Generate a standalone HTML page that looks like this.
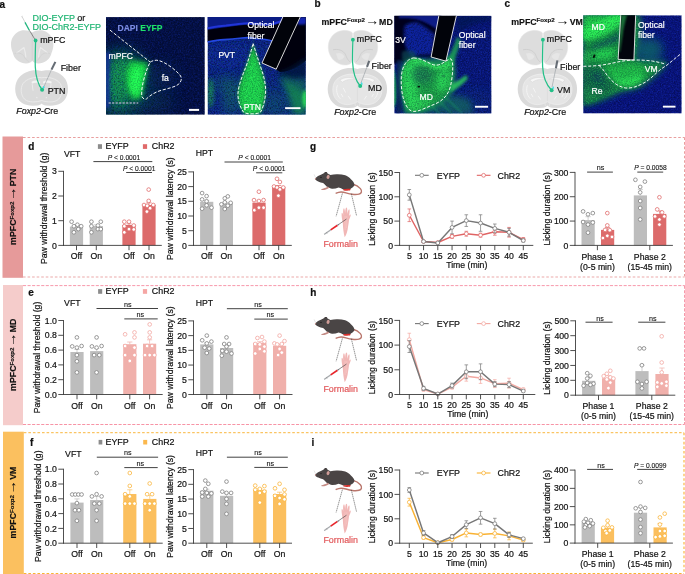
<!DOCTYPE html>
<html lang="en"><head><meta charset="utf-8"><title>Figure</title>
<style>html,body{margin:0;padding:0;background:#fff;overflow:hidden}svg{display:block;will-change:transform;transform:translateZ(0)}text{font-family:"Liberation Sans",sans-serif}</style>
</head><body>
<svg width="685" height="574" viewBox="0 0 685 574">
<defs>
<filter id="b05" x="-60%" y="-60%" width="220%" height="220%"><feGaussianBlur stdDeviation="0.5"/></filter>
<filter id="b1" x="-60%" y="-60%" width="220%" height="220%"><feGaussianBlur stdDeviation="1"/></filter>
<filter id="b15" x="-60%" y="-60%" width="220%" height="220%"><feGaussianBlur stdDeviation="1.5"/></filter>
<filter id="b2" x="-60%" y="-60%" width="220%" height="220%"><feGaussianBlur stdDeviation="2"/></filter>
<filter id="b3" x="-60%" y="-60%" width="220%" height="220%"><feGaussianBlur stdDeviation="3.2"/></filter>
<filter id="b5" x="-60%" y="-60%" width="220%" height="220%"><feGaussianBlur stdDeviation="5"/></filter>
<filter id="b8" x="-60%" y="-60%" width="220%" height="220%"><feGaussianBlur stdDeviation="8"/></filter>
<filter id="nB" x="0" y="0" width="100%" height="100%" color-interpolation-filters="sRGB">
 <feTurbulence type="fractalNoise" baseFrequency="0.75" numOctaves="2" seed="4" result="t"/>
 <feColorMatrix in="t" type="matrix" values="0 0 0 0 0  0 0 0 0 0  0 0 0 0 0  3.2 0 0 0 -1.35" result="a"/>
 <feFlood flood-color="#1c38c0" result="f"/>
 <feComposite in="f" in2="a" operator="in" result="n"/>
 <feComposite in="n" in2="SourceGraphic" operator="in"/>
</filter>
<filter id="nB2" x="0" y="0" width="100%" height="100%" color-interpolation-filters="sRGB">
 <feTurbulence type="fractalNoise" baseFrequency="0.5" numOctaves="2" seed="9" result="t"/>
 <feColorMatrix in="t" type="matrix" values="0 0 0 0 0  0 0 0 0 0  0 0 0 0 0  3.0 0 0 0 -1.2" result="a"/>
 <feFlood flood-color="#10269a" result="f"/>
 <feComposite in="f" in2="a" operator="in" result="n"/>
 <feComposite in="n" in2="SourceGraphic" operator="in"/>
</filter>
<filter id="nG" x="0" y="0" width="100%" height="100%" color-interpolation-filters="sRGB">
 <feTurbulence type="fractalNoise" baseFrequency="0.85" numOctaves="2" seed="7" result="t"/>
 <feColorMatrix in="t" type="matrix" values="0 0 0 0 0  0 0 0 0 0  0 0 0 0 0  3.4 0 0 0 -1.45" result="a"/>
 <feFlood flood-color="#3cff68" result="f"/>
 <feComposite in="f" in2="a" operator="in" result="n"/>
 <feComposite in="n" in2="SourceGraphic" operator="in"/>
</filter>
<filter id="nGd" x="0" y="0" width="100%" height="100%" color-interpolation-filters="sRGB">
 <feTurbulence type="fractalNoise" baseFrequency="0.8" numOctaves="2" seed="12" result="t"/>
 <feColorMatrix in="t" type="matrix" values="0 0 0 0 0  0 0 0 0 0  0 0 0 0 0  3.2 0 0 0 -1.4" result="a"/>
 <feFlood flood-color="#0c5a3a" result="f"/>
 <feComposite in="f" in2="a" operator="in" result="n"/>
 <feComposite in="n" in2="SourceGraphic" operator="in"/>
</filter>
<filter id="nK" x="0" y="0" width="100%" height="100%" color-interpolation-filters="sRGB">
 <feTurbulence type="fractalNoise" baseFrequency="0.7" numOctaves="2" seed="21" result="t"/>
 <feColorMatrix in="t" type="matrix" values="0 0 0 0 0  0 0 0 0 0  0 0 0 0 0  3.0 0 0 0 -1.3" result="a"/>
 <feFlood flood-color="#020718" result="f"/>
 <feComposite in="f" in2="a" operator="in" result="n"/>
 <feComposite in="n" in2="SourceGraphic" operator="in"/>
</filter>
<filter id="nT" x="0" y="0" width="100%" height="100%" color-interpolation-filters="sRGB">
 <feTurbulence type="fractalNoise" baseFrequency="0.6" numOctaves="2" seed="15" result="t"/>
 <feColorMatrix in="t" type="matrix" values="0 0 0 0 0  0 0 0 0 0  0 0 0 0 0  3.0 0 0 0 -1.3" result="a"/>
 <feFlood flood-color="#1f8f6a" result="f"/>
 <feComposite in="f" in2="a" operator="in" result="n"/>
 <feComposite in="n" in2="SourceGraphic" operator="in"/>
</filter>
<clipPath id="c1"><rect x="106.0" y="17.1" width="98.8" height="97.6"/></clipPath>
<clipPath id="c2"><rect x="207.6" y="17.1" width="98.2" height="97.6"/></clipPath>
<clipPath id="c3"><rect x="394.3" y="15.8" width="97.2" height="97.8"/></clipPath>
<clipPath id="c4"><rect x="583.2" y="15.3" width="98.5" height="98.2"/></clipPath>
</defs>
<rect x="0.00" y="0.00" width="685.00" height="574.00" fill="#fff" />
<text x="-0.50" y="7.50" font-size="10" text-anchor="start" fill="#111" stroke="#111" stroke-width="0.2" font-weight="bold" >a</text>
<g transform="translate(32.2 30.2)">
<path d="M0 2.4 C-3 0.2 -8 -0.4 -11.4 0.5 C-17.4 2.2 -21.2 8 -21.2 14 C-21.2 17.4 -20.4 20.4 -19.3 22.7 C-18.9 25.4 -17 28.6 -14 30.9 C-10.4 33.5 -5 34 -2 32.4 C-1 31.8 -0.4 31 0 30.2 C0.4 31 1 31.8 2 32.4 C5 34 10.4 33.5 14 30.9 C17 28.6 18.9 25.4 19.3 22.7 C20.4 20.4 21.2 17.4 21.2 14 C21.2 8 17.4 2.2 11.4 0.5 C8 -0.4 3 0.2 0 2.4 Z" fill="#dcdcdc"/>
<path d="M-8.2 17.4 L-15.6 22.8 M-8.2 17.4 C-7.2 21 -6.6 24 -6.4 26.8 M8.2 17.4 L15.6 22.8 M8.2 17.4 C7.2 21 6.6 24 6.4 26.8" fill="none" stroke="#ebebeb" stroke-width="1.2" stroke-linecap="round"/>
<path d="M-17.6 23.4 C-14 22 -10 23 -8 26.4 C-7 28.6 -5.4 30.6 -3 31.4 M17.6 23.4 C14 22 10 23 8 26.4 C7 28.6 5.4 30.6 3 31.4" fill="none" stroke="#d0d0d0" stroke-width="0.7"/>
<line x1="0.00" y1="2.60" x2="0.00" y2="30.20" stroke="#cccccc" stroke-width="0.6" />
</g>
<g transform="translate(41.6 70.3) scale(0.8893 0.8894)">
<path d="M0 0.8 C-3 -0.2 -8 -0.4 -12 0.4 C-18 1.6 -23.6 5 -26.8 10 C-29.4 14.2 -30.2 19.6 -29.4 24.6 C-28.6 29.6 -26 34 -22 36.8 C-18.4 39.2 -13.6 39.9 -9.4 39.8 L-4.6 39.6 C-2.6 39.4 -0.8 38.6 0 37.4 C0.8 38.6 2.6 39.4 4.6 39.6 L9.4 39.8 C13.6 39.9 18.4 39.2 22 36.8 C26 34 28.6 29.6 29.4 24.6 C30.2 19.6 29.4 14.2 26.8 10 C23.6 5 18 1.6 12 0.4 C8 -0.4 3 -0.2 0 0.8 Z" fill="#dadada"/>
<path d="M0 8.4 C-8 7 -17 9.4 -21 15 C-24 20 -23.6 28 -19 32.6 C-14.6 36.6 -6 36 0 34 C6 36 14.6 36.6 19 32.6 C23.6 28 24 20 21 15 C17 9.4 8 7 0 8.4 Z" fill="none" stroke="#ececec" stroke-width="1"/>
<path d="M-11.4 12.8 C-8 11 -4 11.4 -1.6 12.8 L-1.8 14.8 C-4.6 13.8 -8.4 13.8 -10.8 15 Z M11.4 12.8 C8 11 4 11.4 1.6 12.8 L1.8 14.8 C4.6 13.8 8.4 13.8 10.8 15 Z" fill="#f3f3f3"/>
<path d="M-10.6 15.6 L-9.6 23 M10.6 15.6 L9.6 23 M-3.4 15.6 C-2.2 17.8 2.2 17.8 3.4 15.6" fill="none" stroke="#f0f0f0" stroke-width="0.9"/>
<path d="M-5.4 30 L-5.2 31.4 M5.4 30 L5.2 31.4" stroke="#f2f2f2" stroke-width="0.9" fill="none"/>
</g>
<line x1="22.00" y1="16.50" x2="25.20" y2="22.60" stroke="#c9c9c9" stroke-width="0.8" />
<line x1="21.30" y1="16.90" x2="22.70" y2="16.10" stroke="#bbb" stroke-width="0.5" />
<line x1="25.00" y1="22.40" x2="29.30" y2="30.20" stroke="#21b57f" stroke-width="1.3" />
<line x1="29.30" y1="30.20" x2="34.80" y2="39.20" stroke="#333" stroke-width="0.5" />
<line x1="51.50" y1="69.60" x2="43.60" y2="87.40" stroke="#8d949b" stroke-width="0.55" />
<line x1="55.4" y1="61.9" x2="51.5" y2="69.6" stroke="#666d75" stroke-width="2.1"/>
<path d="M35.6 40.5 C35.30 51.10 35.10 61.70 35.30 67.0 C35.80 77.22 38.52 85.16 42.1 89.7" fill="none" stroke="#23c088" stroke-width="1.25" stroke-linecap="round"/>
<circle cx="35.60" cy="40.50" r="1.9" fill="#23c088" />
<path d="M42.30 88.50 L43.70 85.50 L44.70 88.10 Z" fill="#35e0ea"/>
<circle cx="42.10" cy="89.70" r="2.0" fill="#23c088" />
<text x="32.4" y="20.7" font-size="9" fill="#20b573" stroke="#20b573" stroke-width="0.2">DIO-EYFP <tspan fill="#111" stroke="#111">or</tspan></text>
<text x="32.40" y="29.70" font-size="9" text-anchor="start" fill="#20b573" stroke="#20b573" stroke-width="0.2" >DIO-ChR2-EYFP</text>
<text x="40.20" y="43.10" font-size="8.9" text-anchor="start" fill="#111" stroke="#111" stroke-width="0.2" >mPFC</text>
<text x="60.70" y="70.90" font-size="8.9" text-anchor="start" fill="#111" stroke="#111" stroke-width="0.2" >Fiber</text>
<text x="47.70" y="93.90" font-size="8.9" text-anchor="start" fill="#111" stroke="#111" stroke-width="0.2" >PTN</text>
<text x="16.3" y="113.8" font-size="8.9" fill="#111" stroke="#111" stroke-width="0.2"><tspan font-style="italic">Foxp2</tspan>-Cre</text>
<g clip-path="url(#c1)">
<rect x="106.0" y="17.1" width="98.8" height="97.6" fill="#040f3c" />
<ellipse cx="120" cy="83" rx="26" ry="32" fill="#117a52" filter="url(#b8)"/>
<ellipse cx="122" cy="80" rx="12" ry="23" fill="#16a04c" opacity="0.95" filter="url(#b5)"/>
<ellipse cx="150" cy="102" rx="24" ry="12" fill="#0c4a52" opacity="0.5" filter="url(#b8)"/>
<ellipse cx="160" cy="76" rx="16" ry="12" fill="#0b3a5a" opacity="0.5" filter="url(#b8)"/>
<rect x="106.0" y="17.1" width="98.8" height="97.6" fill="#000" filter="url(#nB2)" opacity="0.3"/>
<rect x="106.0" y="17.1" width="98.8" height="97.6" fill="#000" filter="url(#nB)" opacity="0.2"/>
<rect x="106.0" y="17.1" width="98.8" height="97.6" fill="#000" filter="url(#nK)" opacity="0.45"/>
<rect x="105" y="52" width="5" height="56" fill="#12309a" opacity="0.85" filter="url(#b15)"/>
<path d="M130.5 60 L147.6 62.2 C146.4 70 144.6 78 142.8 86 C142 90 141.6 93.5 141.2 96.5 C138.6 100.5 134.4 101 131.6 98.4 C128.4 93 126.4 85 126 78 C125.6 71 127.4 64.5 130.5 60 Z" fill="#12b040" filter="url(#b3)" opacity="0.9"/>
<path d="M131.6 63.4 L146.4 65 C145.4 72 144 79 142.4 86 C141.8 89.5 141.4 92 141 94.6 C138.8 97.6 135.2 97.8 133 95.8 C130.4 91 128.6 85 128.2 79 C127.8 73 129 67.5 131.6 63.4 Z" fill="#16dc46" filter="url(#b2)"/>
<ellipse cx="136" cy="80.5" rx="5.2" ry="13.5" fill="#24fc54" filter="url(#b2)" transform="rotate(7 136 80.5)"/>
<path d="M130.5 60 L147.6 62.2 C146.4 70 144.6 78 142.8 86 C142 90 141.6 93.5 141.2 96.5 C138.6 100.5 134.4 101 131.6 98.4 C128.4 93 126.4 85 126 78 C125.6 71 127.4 64.5 130.5 60 Z" fill="#000" filter="url(#nGd)" opacity="0.35"/>
<path d="M130.5 60 L147.6 62.2 C146.4 70 144.6 78 142.8 86 C142 90 141.6 93.5 141.2 96.5 C138.6 100.5 134.4 101 131.6 98.4 C128.4 93 126.4 85 126 78 C125.6 71 127.4 64.5 130.5 60 Z" fill="#000" filter="url(#nG)" opacity="0.25"/>
<ellipse cx="120" cy="82" rx="12" ry="22" fill="#000" filter="url(#nG)" opacity="0.16"/>
<path d="M110 30.1 L150.2 62.1" fill="none" stroke="#fff" stroke-width="0.95" stroke-dasharray="3.2 1.7"/>
<path d="M150.2 62.1 C153 60.4 156 59.8 159 60.6 C166 62.6 174 68.6 179.6 74.6 C182 77.4 181.8 80.4 179.4 83.4 C176 87 168 88.4 161 90.4 C154 92.4 149 96.4 146.4 99 C145 100 142.8 98.6 141.9 96.4 C141 92 142.4 84 144.6 76.6 C146 71 148.4 65.6 150.2 62.1 Z" fill="none" stroke="#fff" stroke-width="0.95" stroke-dasharray="3.2 1.7"/>
<path d="M108.6 103 H138.2" fill="none" stroke="#9aa1bb" stroke-width="1.5" stroke-dasharray="2.2 1.3"/>
<rect x="189.00" y="108.90" width="10.10" height="2.00" fill="#fff" />
<text x="117.6" y="30.5" font-size="8.5" font-weight="bold" fill="#7d8de4" stroke="#7d8de4" stroke-width="0.15">DAPI <tspan fill="#1fe26a" stroke="#1fe26a">EYFP</tspan></text>
<text x="108.60" y="58.50" font-size="8.6" text-anchor="start" fill="#fff" stroke="#fff" stroke-width="0.2" >mPFC</text>
<text x="161.70" y="80.90" font-size="8.6" text-anchor="start" fill="#fff" stroke="#fff" stroke-width="0.2" >fa</text>
</g>
<g clip-path="url(#c2)">
<rect x="207.6" y="17.1" width="98.2" height="97.6" fill="#0c1f86" />
<ellipse cx="228" cy="84" rx="14" ry="9" fill="#127a5c" opacity="0.45" filter="url(#b5)"/>
<ellipse cx="231" cy="100" rx="9" ry="15" fill="#128058" opacity="0.5" filter="url(#b5)"/>
<ellipse cx="210.6" cy="93" rx="3.2" ry="15" fill="#1fa04c" opacity="0.85" filter="url(#b2)"/>
<ellipse cx="275" cy="104" rx="16" ry="14" fill="#0d5a68" opacity="0.7" filter="url(#b8)"/>
<ellipse cx="228" cy="56" rx="22" ry="12" fill="#10269a" opacity="0.8" filter="url(#b5)"/>
<rect x="207.6" y="17.1" width="98.2" height="97.6" fill="#000" filter="url(#nB)" opacity="0.4"/>
<rect x="207.6" y="17.1" width="98.2" height="97.6" fill="#000" filter="url(#nK)" opacity="0.5"/>
<rect x="207.6" y="17.1" width="98.2" height="97.6" fill="#000" filter="url(#nT)" opacity="0.22"/>
<path d="M207 29.6 C213 28 220 27.6 226 26.8 C232 26 238 25 244 24.6 C250 24.2 256 24.8 262 25.4 C268 26 275 25.2 281 22.4 L284 17 L306.5 17 L306.5 60 C298 68 288 72 280 72 L276.2 69.2 L262 63 L272.4 41 C268 39.6 262 39 256 38.8 C252 37.6 247 37.4 242 38 C236 38.8 230 39.4 224 39.6 C218 39.8 213 40.8 207 42 Z" fill="#01030c" filter="url(#b05)"/>
<path d="M207 17 H284 L281 22.5 C275 25.6 268 26.4 262 25.8 C256 25.2 250 24.6 244 25 C238 25.6 232 26.6 226 27.2 C220 28 213 28.6 207 30 Z" fill="#0b1c84"/>
<path d="M207 28.4 C213 26.8 220 26.2 226 25.6 C232 24.8 238 23.8 244 23.4 C250 23 256 23.6 262 24.2 C268 24.8 275 24 281 21.2" fill="none" stroke="#2034d8" stroke-width="2" filter="url(#b05)"/>
<path d="M299 17 L306.5 17 L306.5 24 C303 25 300 25 297 24 Z" fill="#1428b0" filter="url(#b1)"/>
<path d="M207 42 C213 40.8 218 39.8 224 39.6 C230 39.4 236 38.8 242 38 C247 37.4 252 37.6 256 38.8 C262 39 268 39.6 272.4 41" fill="none" stroke="#2447e0" stroke-width="1.6" filter="url(#b05)"/>
<path d="M278 72 C288 70 298 64 306.5 56 L306.5 78 C298 80 288 80 280 76 Z" fill="#06143a" opacity="0.8" filter="url(#b2)"/>
<path d="M279 76 C286 80 296 86 306.5 90 L306.5 115 L293 115 C292 102 286 88 279 76 Z" fill="#189648" opacity="0.75" filter="url(#b3)"/>
<path d="M280 76 C288 79 296 80 306.5 78 L306.5 90 C296 88 287 84 280 76 Z" fill="#15804e" opacity="0.6" filter="url(#b3)"/>
<ellipse cx="305" cy="99" rx="2.6" ry="9" fill="#2ee858" filter="url(#b15)" opacity="0.9"/>
<path d="M253.1 43.4 C255.4 51 258.6 61 262 71 C264.8 79 266.2 88 265.4 95 C264.6 102 263 108 260.6 112 C258 114.6 246 114.6 243.4 112 C240 107 237.6 100 238 93 C238.6 85 242.4 75.5 245.8 67 C248.8 59 251.2 51 253.1 43.4 Z" fill="#17a641" filter="url(#b15)"/>
<path d="M253 52 C256 62 260 72 262 82 C263.6 92 262 104 259 114 L245 114 C241 104 240.6 94 243 84 C246 72 250 62 253 52 Z" fill="#1fd04c" filter="url(#b2)"/>
<path d="M253.1 43.4 C255.4 51 258.6 61 262 71 C264.8 79 266.2 88 265.4 95 C264.6 102 263 108 260.6 112 C258 114.6 246 114.6 243.4 112 C240 107 237.6 100 238 93 C238.6 85 242.4 75.5 245.8 67 C248.8 59 251.2 51 253.1 43.4 Z" fill="#000" filter="url(#nG)" opacity="0.45"/>
<path d="M253.1 43.4 C255.4 51 258.6 61 262 71 C264.8 79 266.2 88 265.4 95 C264.6 102 263 108 260.6 112 C258 114.6 246 114.6 243.4 112 C240 107 237.6 100 238 93 C238.6 85 242.4 75.5 245.8 67 C248.8 59 251.2 51 253.1 43.4 Z" fill="#000" filter="url(#nGd)" opacity="0.4"/>
<path d="M283.7 16 L301.1 16 L276.2 69.2 L262 63 Z" fill="#01030a"/>
<path d="M253.1 43.4 C255.4 51 258.6 61 262 71 C264.8 79 266.2 88 265.4 95 C264.6 102 263 108 260.6 112 C258 114.6 246 114.6 243.4 112 C240 107 237.6 100 238 93 C238.6 85 242.4 75.5 245.8 67 C248.8 59 251.2 51 253.1 43.4 Z" fill="none" stroke="#fff" stroke-width="0.95" stroke-dasharray="3.2 1.7"/>
<path d="M283.7 15 L301.1 15 L276.2 69.2 L262 63 Z" fill="none" stroke="#fff" stroke-width="0.85"/>
<rect x="285.10" y="107.20" width="15.40" height="1.90" fill="#fff" />
<text x="247.60" y="28.40" font-size="8.6" text-anchor="start" fill="#fff" stroke="#fff" stroke-width="0.2" >Optical</text>
<text x="247.60" y="39.20" font-size="8.6" text-anchor="start" fill="#fff" stroke="#fff" stroke-width="0.2" >fiber</text>
<text x="218.40" y="58.10" font-size="8.6" text-anchor="start" fill="#fff" stroke="#fff" stroke-width="0.2" >PVT</text>
<text x="243.70" y="110.20" font-size="8.6" text-anchor="start" fill="#fff" stroke="#fff" stroke-width="0.2" >PTN</text>
</g>
<text x="314.60" y="7.45" font-size="10" text-anchor="start" fill="#111" stroke="#111" stroke-width="0.2" font-weight="bold" >b</text>
<g transform="translate(321.50 24.70) rotate(0)" fill="#111" stroke="#111" stroke-width="0.15">
<text x="0" y="0" font-size="8.8" font-weight="bold">mPFC<tspan font-size="6.1" dy="-2.7">Foxp2</tspan></text>
<text x="43.80" y="0" font-size="14" stroke="none">→</text>
<text x="57.60" y="0" font-size="8.8" font-weight="bold">MD</text>
</g>
<g transform="translate(353.0 30.2)">
<path d="M-0.5 2.8 C-2.6 0.4 -8 -0.6 -13 0.8 C-19.4 2.6 -24.2 8.4 -24.7 15.4 C-25.1 21 -23 26.6 -19 30.4 C-14.6 34.4 -7.4 36.4 -2.6 33.6 C-1 32.6 -0.5 30 -0.5 27 Z" fill="#dddddd" stroke="#e6e6e6" stroke-width="0.5"/>
<path d="M0.5 2.8 C2.6 0.4 8 -0.6 13 0.8 C19.4 2.6 24.2 8.4 24.7 15.4 C25.1 21 23 26.6 19 30.4 C14.6 34.4 7.4 36.4 2.6 33.6 C1 32.6 0.5 30 0.5 27 Z" fill="#dddddd" stroke="#e6e6e6" stroke-width="0.5"/>
<path d="M-20 19.6 C-15 18.4 -9.6 20 -7.4 24.6 C-6.4 27.4 -5 30.4 -3 31.6 M20 19.6 C15 18.4 9.6 20 7.4 24.6 C6.4 27.4 5 30.4 3 31.6" fill="none" stroke="#cbcbcb" stroke-width="0.8"/>
<path d="M-17 23.4 C-13.6 22 -10 23.4 -8.6 26.4 C-9.6 29 -12.6 30.4 -15 29.4 Z M17 23.4 C13.6 22 10 23.4 8.6 26.4 C9.6 29 12.6 30.4 15 29.4 Z" fill="#e6e6e6"/>
</g>
<g transform="translate(357.4 68.2) scale(1.0000 1.0000)">
<path d="M0 0.8 C-3 -0.2 -8 -0.4 -12 0.4 C-18 1.6 -23.6 5 -26.8 10 C-29.4 14.2 -30.2 19.6 -29.4 24.6 C-28.6 29.6 -26 34 -22 36.8 C-18.4 39.2 -13.6 39.9 -9.4 39.8 L-4.6 39.6 C-2.6 39.4 -0.8 38.6 0 37.4 C0.8 38.6 2.6 39.4 4.6 39.6 L9.4 39.8 C13.6 39.9 18.4 39.2 22 36.8 C26 34 28.6 29.6 29.4 24.6 C30.2 19.6 29.4 14.2 26.8 10 C23.6 5 18 1.6 12 0.4 C8 -0.4 3 -0.2 0 0.8 Z" fill="#dadada"/>
<path d="M0 6.4 C-7 5 -16 6.6 -21 11.6 C-25 16 -25.6 23 -23 28.6 C-20.6 33.6 -15 36.6 -9.6 36.4 C-5.6 36.2 -2 35 0 33.4 C2 35 5.6 36.2 9.6 36.4 C15 36.6 20.6 33.6 23 28.6 C25.6 23 25 16 21 11.6 C16 6.6 7 5 0 6.4 Z" fill="#e5e5e5" stroke="#efefef" stroke-width="0.7"/>
<path d="M-17.6 12 C-13 8.6 -6 8.4 -1.4 11.2 C-5 10.6 -11 11 -15 14 Z M17.6 12 C13 8.6 6 8.4 1.4 11.2 C5 10.6 11 11 15 14 Z" fill="#f6f6f6" stroke="#cfcfcf" stroke-width="0.4"/>
<path d="M-20 17 C-21.6 21.6 -20.6 27 -17 30.6 M20 17 C21.6 21.6 20.6 27 17 30.6" fill="none" stroke="#f4f4f4" stroke-width="1"/>
<path d="M-14 20 L-12 24 M14 20 L12 24 M-9 28 L-7 31 M9 28 L7 31 M-16 26 L-14.6 28.6 M16 26 L14.6 28.6" stroke="#f4f4f4" stroke-width="1" stroke-linecap="round" fill="none"/>
<path d="M0 12 L0 33" stroke="#d6d6d6" stroke-width="0.5"/>
<path d="M-2.6 34 L-2 38 M2.6 34 L2 38" stroke="#eaeaea" stroke-width="0.7"/>
</g>
<line x1="367.00" y1="66.90" x2="360.80" y2="83.40" stroke="#8d949b" stroke-width="0.55" />
<line x1="369.2" y1="60.8" x2="367.0" y2="66.9" stroke="#666d75" stroke-width="2.1"/>
<path d="M352.9 39.7 C352.60 48.82 352.40 57.94 352.60 62.5 C353.10 73.08 356.19 81.30 360.2 86.0" fill="none" stroke="#23c088" stroke-width="1.25" stroke-linecap="round"/>
<circle cx="352.90" cy="39.70" r="1.9" fill="#23c088" />
<path d="M360.40 84.80 L361.80 81.80 L362.80 84.40 Z" fill="#35e0ea"/>
<circle cx="360.20" cy="86.00" r="2.0" fill="#23c088" />
<text x="356.80" y="42.20" font-size="8.9" text-anchor="start" fill="#111" stroke="#111" stroke-width="0.2" >mPFC</text>
<text x="371.60" y="69.20" font-size="8.9" text-anchor="start" fill="#111" stroke="#111" stroke-width="0.2" >Fiber</text>
<text x="368.10" y="90.70" font-size="8.9" text-anchor="start" fill="#111" stroke="#111" stroke-width="0.2" >MD</text>
<text x="334.2" y="115.3" font-size="8.9" fill="#111" stroke="#111" stroke-width="0.2"><tspan font-style="italic">Foxp2</tspan>-Cre</text>
<g clip-path="url(#c3)">
<rect x="394.3" y="15.8" width="97.2" height="97.8" fill="#081678" />
<ellipse cx="470" cy="102" rx="26" ry="12" fill="#0c3078" opacity="0.6" filter="url(#b8)"/>
<rect x="394.3" y="15.8" width="97.2" height="97.8" fill="#000" filter="url(#nB)" opacity="0.4"/>
<rect x="394.3" y="15.8" width="97.2" height="97.8" fill="#000" filter="url(#nK)" opacity="0.4"/>
<path d="M393 14 L441 14 L432 57.5 C424 56 416 56.6 409 58.6 L402 62 L393 64 Z" fill="#02061a" filter="url(#b1)"/>
<path d="M399 15 L441 15 L437.4 29.5 C432 26 426 22.6 420 20.4 C414 18.6 406 17.8 399 18.6 Z" fill="#0b1c86" filter="url(#b1)"/>
<path d="M404.6 26 C408 23.4 413 22 417.4 22.4 C423 25 429 29.4 434.4 34 L431.8 55 C425 54.4 418 55 411.4 56.8 C408 53 405.6 48 404.6 42 C404 36 404 30 404.6 26 Z" fill="#0f239c" filter="url(#b15)"/>
<path d="M404.6 26 C408 23.4 413 22 417.4 22.4 C423 25 429 29.4 434.4 34 L431.8 55 C425 54.4 418 55 411.4 56.8 C408 53 405.6 48 404.6 42 C404 36 404 30 404.6 26 Z" fill="#000" filter="url(#nK)" opacity="0.45"/>
<path d="M402 52 C406 50 412 50 416 53 L414 58 C410 58 406 59.6 402 62 Z" fill="#0c4a5a" opacity="0.7" filter="url(#b15)"/>
<path d="M456 15 L491.5 15 L491.5 21 C480 21 468 25 458 33 Z" fill="#061450" opacity="0.7" filter="url(#b2)"/>
<path d="M393.6 68 C396 74 396.8 88 396.2 102 L393.6 110 Z" fill="#22cc50" filter="url(#b1)" opacity="0.95"/>
<path d="M405 62 L452 56 C458 66 456 84 450 96 C444 106 432 112 420 114 L404 114 C402 100 402 80 405 62 Z" fill="#1a9a50" opacity="0.8" filter="url(#b2)"/>
<path d="M396.6 60 L402 60 C400 76 400 94 402.6 110 L398 114 L396.6 114 Z" fill="#0a2c52" opacity="0.8" filter="url(#b1)"/>
<path d="M413.5 57.9 C416 58 418.6 58.6 420.7 59.3 C423.4 60.2 425.6 61.3 427.9 62.4 C430.4 63.6 432.8 64.8 435.1 65.1 C437 65.3 438.9 64.9 440.5 64.2 C442.4 63.4 444.2 62.2 445.9 61.1 C447.6 60 449.4 59 450.9 58.8 C452.2 60.6 452.6 62.8 452.7 65.1 C452.9 68.6 452.6 72.2 452.2 75.8 C451.8 79.5 451.2 83.1 450.4 86.6 C449.6 89.6 448.4 92.4 446.8 94.7 C445 97.3 442.9 99.4 440.5 101 C437.7 102.9 434.6 104.3 431.5 105.5 C428 106.9 424.4 108.6 420.7 110 C418.4 110.9 415.9 111.5 413.5 111.4 C411 111.2 408.8 109.6 407.3 107.3 C405.3 104.4 404 101 403.1 97.4 C402.1 93.4 401.5 89.1 401.3 84.8 C401.1 80.6 401.2 76.3 401.9 72.3 C402.5 69 403.7 65.9 405.5 63.3 C407.5 60.4 410.4 58.2 413.5 57.9 Z" fill="#1b9444" filter="url(#b1)"/>
<path d="M405 64 C408 60 414 58.4 420 60.6 C418 70 416 84 418 96 C419 102 417 108 413 110 C408 108 404 100 402.6 90 C401.4 80 402 70 405 64 Z" fill="#2ee85c" opacity="0.75" filter="url(#b3)"/>
<path d="M414 58.6 C422 59.6 430 64 437 65.6 C442 65.4 447 61.4 451 59.4 L452 66 C446 68 440 70 434 69 C426 67 418 63 412 62 Z" fill="#38ec64" opacity="0.85" filter="url(#b15)"/>
<ellipse cx="443" cy="80" rx="6.5" ry="12" fill="#2cdc58" opacity="0.8" filter="url(#b3)" transform="rotate(12 443 80)"/>
<ellipse cx="420" cy="104" rx="12" ry="5" fill="#30e05c" opacity="0.7" filter="url(#b3)" transform="rotate(-14 420 104)"/>
<ellipse cx="422" cy="75" rx="10.5" ry="8.5" fill="#126250" opacity="0.8" filter="url(#b3)" transform="rotate(15 422 75)"/>
<path d="M413.5 57.9 C416 58 418.6 58.6 420.7 59.3 C423.4 60.2 425.6 61.3 427.9 62.4 C430.4 63.6 432.8 64.8 435.1 65.1 C437 65.3 438.9 64.9 440.5 64.2 C442.4 63.4 444.2 62.2 445.9 61.1 C447.6 60 449.4 59 450.9 58.8 C452.2 60.6 452.6 62.8 452.7 65.1 C452.9 68.6 452.6 72.2 452.2 75.8 C451.8 79.5 451.2 83.1 450.4 86.6 C449.6 89.6 448.4 92.4 446.8 94.7 C445 97.3 442.9 99.4 440.5 101 C437.7 102.9 434.6 104.3 431.5 105.5 C428 106.9 424.4 108.6 420.7 110 C418.4 110.9 415.9 111.5 413.5 111.4 C411 111.2 408.8 109.6 407.3 107.3 C405.3 104.4 404 101 403.1 97.4 C402.1 93.4 401.5 89.1 401.3 84.8 C401.1 80.6 401.2 76.3 401.9 72.3 C402.5 69 403.7 65.9 405.5 63.3 C407.5 60.4 410.4 58.2 413.5 57.9 Z" fill="#000" filter="url(#nG)" opacity="0.3"/>
<path d="M413.5 57.9 C416 58 418.6 58.6 420.7 59.3 C423.4 60.2 425.6 61.3 427.9 62.4 C430.4 63.6 432.8 64.8 435.1 65.1 C437 65.3 438.9 64.9 440.5 64.2 C442.4 63.4 444.2 62.2 445.9 61.1 C447.6 60 449.4 59 450.9 58.8 C452.2 60.6 452.6 62.8 452.7 65.1 C452.9 68.6 452.6 72.2 452.2 75.8 C451.8 79.5 451.2 83.1 450.4 86.6 C449.6 89.6 448.4 92.4 446.8 94.7 C445 97.3 442.9 99.4 440.5 101 C437.7 102.9 434.6 104.3 431.5 105.5 C428 106.9 424.4 108.6 420.7 110 C418.4 110.9 415.9 111.5 413.5 111.4 C411 111.2 408.8 109.6 407.3 107.3 C405.3 104.4 404 101 403.1 97.4 C402.1 93.4 401.5 89.1 401.3 84.8 C401.1 80.6 401.2 76.3 401.9 72.3 C402.5 69 403.7 65.9 405.5 63.3 C407.5 60.4 410.4 58.2 413.5 57.9 Z" fill="#000" filter="url(#nGd)" opacity="0.45"/>
<path d="M447 60 C451 52 455 44 457 37 L461 40 C459 48 455 58 452.6 66 Z" fill="#1fa653" opacity="0.85" filter="url(#b15)"/>
<path d="M451 84 C456 82 461 79 466 75 L468 78.6 C463 84 457 89 450 93 Z" fill="#2cc65c" opacity="0.9" filter="url(#b15)"/>
<path d="M446 96 C452 94 460 96 470 100 L474 114 L426 114 C434 108 440 102 446 96 Z" fill="#12785a" opacity="0.6" filter="url(#b3)"/>
<path d="M440 102 L452 114 M446 98 L462 113 M432 106 L440 114" stroke="#1ea860" stroke-width="1.2" opacity="0.6" filter="url(#b1)" fill="none"/>
<ellipse cx="418.8" cy="86.6" rx="1.3" ry="0.9" fill="#04150c"/>
<ellipse cx="443.6" cy="76" rx="1.6" ry="1.4" fill="#1d8a48" opacity="0.8"/>
<path d="M439 14.8 L456.6 14.8 L445.9 61.1 L431.1 57 Z" fill="#01030a"/>
<path d="M413.5 57.9 C416 58 418.6 58.6 420.7 59.3 C423.4 60.2 425.6 61.3 427.9 62.4 C430.4 63.6 432.8 64.8 435.1 65.1 C437 65.3 438.9 64.9 440.5 64.2 C442.4 63.4 444.2 62.2 445.9 61.1 C447.6 60 449.4 59 450.9 58.8 C452.2 60.6 452.6 62.8 452.7 65.1 C452.9 68.6 452.6 72.2 452.2 75.8 C451.8 79.5 451.2 83.1 450.4 86.6 C449.6 89.6 448.4 92.4 446.8 94.7 C445 97.3 442.9 99.4 440.5 101 C437.7 102.9 434.6 104.3 431.5 105.5 C428 106.9 424.4 108.6 420.7 110 C418.4 110.9 415.9 111.5 413.5 111.4 C411 111.2 408.8 109.6 407.3 107.3 C405.3 104.4 404 101 403.1 97.4 C402.1 93.4 401.5 89.1 401.3 84.8 C401.1 80.6 401.2 76.3 401.9 72.3 C402.5 69 403.7 65.9 405.5 63.3 C407.5 60.4 410.4 58.2 413.5 57.9 Z" fill="none" stroke="#fff" stroke-width="0.95" stroke-dasharray="3.2 1.7"/>
<path d="M439 14.8 L456.6 14.8 L445.9 61.1 L431.1 57 Z" fill="none" stroke="#fff" stroke-width="0.85"/>
<rect x="475.00" y="105.80" width="13.10" height="1.90" fill="#fff" />
<text x="395.20" y="42.60" font-size="8.6" text-anchor="start" fill="#fff" stroke="#fff" stroke-width="0.2" >3V</text>
<text x="458.80" y="38.10" font-size="8.6" text-anchor="start" fill="#fff" stroke="#fff" stroke-width="0.2" >Optical</text>
<text x="458.80" y="47.60" font-size="8.6" text-anchor="start" fill="#fff" stroke="#fff" stroke-width="0.2" >fiber</text>
<text x="419.60" y="99.60" font-size="8.6" text-anchor="start" fill="#fff" stroke="#fff" stroke-width="0.2" >MD</text>
</g>
<text x="504.60" y="7.45" font-size="10" text-anchor="start" fill="#111" stroke="#111" stroke-width="0.2" font-weight="bold" >c</text>
<g transform="translate(511.20 24.70) rotate(0)" fill="#111" stroke="#111" stroke-width="0.15">
<text x="0" y="0" font-size="8.8" font-weight="bold">mPFC<tspan font-size="6.1" dy="-2.7">Foxp2</tspan></text>
<text x="44.20" y="0" font-size="14" stroke="none">→</text>
<text x="58.50" y="0" font-size="8.8" font-weight="bold">VM</text>
</g>
<g transform="translate(543.0 30.2)">
<path d="M-0.5 2.8 C-2.6 0.4 -8 -0.6 -13 0.8 C-19.4 2.6 -24.2 8.4 -24.7 15.4 C-25.1 21 -23 26.6 -19 30.4 C-14.6 34.4 -7.4 36.4 -2.6 33.6 C-1 32.6 -0.5 30 -0.5 27 Z" fill="#dddddd" stroke="#e6e6e6" stroke-width="0.5"/>
<path d="M0.5 2.8 C2.6 0.4 8 -0.6 13 0.8 C19.4 2.6 24.2 8.4 24.7 15.4 C25.1 21 23 26.6 19 30.4 C14.6 34.4 7.4 36.4 2.6 33.6 C1 32.6 0.5 30 0.5 27 Z" fill="#dddddd" stroke="#e6e6e6" stroke-width="0.5"/>
<path d="M-20 19.6 C-15 18.4 -9.6 20 -7.4 24.6 C-6.4 27.4 -5 30.4 -3 31.6 M20 19.6 C15 18.4 9.6 20 7.4 24.6 C6.4 27.4 5 30.4 3 31.6" fill="none" stroke="#cbcbcb" stroke-width="0.8"/>
<path d="M-17 23.4 C-13.6 22 -10 23.4 -8.6 26.4 C-9.6 29 -12.6 30.4 -15 29.4 Z M17 23.4 C13.6 22 10 23.4 8.6 26.4 C9.6 29 12.6 30.4 15 29.4 Z" fill="#e6e6e6"/>
</g>
<g transform="translate(547.4 68.2) scale(1.0000 1.0000)">
<path d="M0 0.8 C-3 -0.2 -8 -0.4 -12 0.4 C-18 1.6 -23.6 5 -26.8 10 C-29.4 14.2 -30.2 19.6 -29.4 24.6 C-28.6 29.6 -26 34 -22 36.8 C-18.4 39.2 -13.6 39.9 -9.4 39.8 L-4.6 39.6 C-2.6 39.4 -0.8 38.6 0 37.4 C0.8 38.6 2.6 39.4 4.6 39.6 L9.4 39.8 C13.6 39.9 18.4 39.2 22 36.8 C26 34 28.6 29.6 29.4 24.6 C30.2 19.6 29.4 14.2 26.8 10 C23.6 5 18 1.6 12 0.4 C8 -0.4 3 -0.2 0 0.8 Z" fill="#dadada"/>
<path d="M0 6.4 C-7 5 -16 6.6 -21 11.6 C-25 16 -25.6 23 -23 28.6 C-20.6 33.6 -15 36.6 -9.6 36.4 C-5.6 36.2 -2 35 0 33.4 C2 35 5.6 36.2 9.6 36.4 C15 36.6 20.6 33.6 23 28.6 C25.6 23 25 16 21 11.6 C16 6.6 7 5 0 6.4 Z" fill="#e5e5e5" stroke="#efefef" stroke-width="0.7"/>
<path d="M-17.6 12 C-13 8.6 -6 8.4 -1.4 11.2 C-5 10.6 -11 11 -15 14 Z M17.6 12 C13 8.6 6 8.4 1.4 11.2 C5 10.6 11 11 15 14 Z" fill="#f6f6f6" stroke="#cfcfcf" stroke-width="0.4"/>
<path d="M-20 17 C-21.6 21.6 -20.6 27 -17 30.6 M20 17 C21.6 21.6 20.6 27 17 30.6" fill="none" stroke="#f4f4f4" stroke-width="1"/>
<path d="M-14 20 L-12 24 M14 20 L12 24 M-9 28 L-7 31 M9 28 L7 31 M-16 26 L-14.6 28.6 M16 26 L14.6 28.6" stroke="#f4f4f4" stroke-width="1" stroke-linecap="round" fill="none"/>
<path d="M0 12 L0 33" stroke="#d6d6d6" stroke-width="0.5"/>
<path d="M-2.6 34 L-2 38 M2.6 34 L2 38" stroke="#eaeaea" stroke-width="0.7"/>
</g>
<line x1="555.90" y1="68.20" x2="552.00" y2="87.20" stroke="#8d949b" stroke-width="0.55" />
<line x1="557.4" y1="60.4" x2="555.9" y2="68.2" stroke="#666d75" stroke-width="2.1"/>
<path d="M542.9 39.7 C542.60 50.42 542.40 61.14 542.60 66.5 C543.10 77.17 546.82 85.46 551.6 90.2" fill="none" stroke="#23c088" stroke-width="1.25" stroke-linecap="round"/>
<circle cx="542.90" cy="39.70" r="1.9" fill="#23c088" />
<path d="M551.80 89.00 L553.20 86.00 L554.20 88.60 Z" fill="#35e0ea"/>
<circle cx="551.60" cy="90.20" r="2.0" fill="#23c088" />
<text x="546.80" y="42.20" font-size="8.9" text-anchor="start" fill="#111" stroke="#111" stroke-width="0.2" >mPFC</text>
<text x="560.10" y="69.70" font-size="8.9" text-anchor="start" fill="#111" stroke="#111" stroke-width="0.2" >Fiber</text>
<text x="557.00" y="93.40" font-size="8.9" text-anchor="start" fill="#111" stroke="#111" stroke-width="0.2" >VM</text>
<text x="524.2" y="115.3" font-size="8.9" fill="#111" stroke="#111" stroke-width="0.2"><tspan font-style="italic">Foxp2</tspan>-Cre</text>
<g clip-path="url(#c4)">
<rect x="583.2" y="15.3" width="98.5" height="98.2" fill="#08127a" />
<rect x="583.2" y="15.3" width="98.5" height="98.2" fill="#000" filter="url(#nB)" opacity="0.4"/>
<rect x="583.2" y="15.3" width="98.5" height="98.2" fill="#000" filter="url(#nK)" opacity="0.35"/>
<path d="M583 15 L640 15 C642 30 640 46 636 60 C646 60 656 60 668 62 C660 72 650 82 638 88 C631 90.6 625 90 619 92.6 C610 97 598 102.6 583 106.5 Z" fill="#15803f" filter="url(#b3)"/>
<ellipse cx="649" cy="50" rx="14" ry="12" fill="#0f6a66" opacity="0.75" filter="url(#b5)"/>
<path d="M583 15 L622 15 L622 24 C614 30 606 34 598 37 C592 39 587 40 583 41 Z" fill="#22c84c" filter="url(#b3)"/>
<path d="M583 27 C590 27 598 24 606 19 L612 15 L622 15 L622 22 C614 28 604 34 596 37 C590 39 586 39 583 39 Z" fill="#2aeb54" filter="url(#b2)"/>
<path d="M590 46 C598 44 608 40 620 32 L620 40 C612 44 604 48 594 50 Z" fill="#0d4a58" opacity="0.9" filter="url(#b2)"/>
<ellipse cx="604" cy="54" rx="12" ry="5.5" fill="#28da52" opacity="0.9" filter="url(#b3)" transform="rotate(-12 604 54)"/>
<ellipse cx="586" cy="58" rx="5" ry="7" fill="#2ec458" opacity="0.7" filter="url(#b3)"/>
<path d="M603 67 C612 64 626 63 640 64 C647 67 648 72 643 78 C637 84 630 87 624 86 C616 84 610 78 606 72 Z" fill="#22c24a" opacity="0.8" filter="url(#b3)"/>
<path d="M612 76 C616 82 622 86 628 86 C634 85 639 82 643 78 L640 74 C634 78 628 80 622 79 C618 78 615 76 612 76 Z" fill="#2ee458" opacity="0.85" filter="url(#b2)"/>
<path d="M583 67 L600 66 C604 72 608 80 615 87 C608 93 598 98 583 102 Z" fill="#0d5048" opacity="0.85" filter="url(#b3)"/>
<ellipse cx="590" cy="94" rx="8" ry="7" fill="#1c8a48" opacity="0.6" filter="url(#b3)"/>
<ellipse cx="598" cy="77" rx="5" ry="4.5" fill="#0b3a5c" opacity="0.7" filter="url(#b2)"/>
<path d="M583 15 L640 15 L636 60 L668 62 L638 88 L619 92.6 L583 106.5 Z" fill="#000" filter="url(#nG)" opacity="0.3"/>
<path d="M583 15 L640 15 L636 60 L668 62 L638 88 L619 92.6 L583 106.5 Z" fill="#000" filter="url(#nGd)" opacity="0.45"/>
<ellipse cx="594.2" cy="56.2" rx="1.1" ry="1.9" fill="#04150c" transform="rotate(25 594.2 56.2)"/>
<path d="M620.8 14.3 L635.7 14.3 L633.9 60 L618.1 59.3 Z" fill="#02050d"/>
<path d="M621 15 L627 15 C625 22 623.4 28 622.4 36 L620 52 L619 52 Z" fill="#2ab856" opacity="0.6" filter="url(#b1)"/>
<path d="M583.2 66.3 C589 66.2 594 66 598.9 65.4 C602 65 605 64.6 607.9 64.1 C612.8 63.2 617.4 61.9 622.2 61.1 C627.6 60.3 633 59.9 638.4 60 C643.2 60.1 648 60.4 652.7 61.1 C657 61.8 661.2 62.8 665.3 64.1" fill="none" stroke="#fff" stroke-width="0.95" stroke-dasharray="3.2 1.7"/>
<path d="M598.9 65.4 C601.2 67 602.8 69.2 604.3 71.3 C606 73.7 607.8 76.2 609.7 78.4 C611.8 80.8 614.2 83 616.9 84.7 C619.6 86.4 622.7 87.6 625.8 88 C628.8 88.3 631.9 87.8 634.8 86.9 C638.6 85.7 642.2 84 645.6 82 C649.4 79.4 652.9 76.3 656.3 73.1 C659.8 69.8 663.4 67.3 667.1 65 C671.9 61 676.6 57.2 681.6 53.2" fill="none" stroke="#fff" stroke-width="0.95" stroke-dasharray="3.2 1.7"/>
<path d="M620.8 14.3 L635.7 14.3 L633.9 60 L618.1 59.3 Z" fill="none" stroke="#fff" stroke-width="0.85"/>
<rect x="662.90" y="105.70" width="12.60" height="1.90" fill="#fff" />
<text x="591.60" y="29.50" font-size="8.6" text-anchor="start" fill="#fff" stroke="#fff" stroke-width="0.2" >MD</text>
<text x="637.90" y="27.80" font-size="8.6" text-anchor="start" fill="#fff" stroke="#fff" stroke-width="0.2" >Optical</text>
<text x="637.90" y="37.60" font-size="8.6" text-anchor="start" fill="#fff" stroke="#fff" stroke-width="0.2" >fiber</text>
<text x="644.80" y="72.30" font-size="8.6" text-anchor="start" fill="#fff" stroke="#fff" stroke-width="0.2" >VM</text>
<text x="591.60" y="94.10" font-size="8.6" text-anchor="start" fill="#fff" stroke="#fff" stroke-width="0.2" >Re</text>
</g>
<rect x="2.50" y="136.50" width="20.50" height="141.30" fill="#e69a9a" />
<path d="M23 137.5H684.6" stroke="#e89a9a" stroke-width="0.95" stroke-dasharray="2.6 1.95" fill="none"/>
<path d="M684.6 137.5V277.0" stroke="#e89a9a" stroke-width="1.1" stroke-dasharray="2.6 1.95" fill="none"/>
<path d="M23 277.0H684.6" stroke="#f2c6c6" stroke-width="1.6" stroke-dasharray="2.6 1.95" fill="none"/>
<g transform="translate(16.30 244.90) rotate(-90)" fill="#111" stroke="#111" stroke-width="0.15">
<text x="0" y="0" font-size="8.8" font-weight="bold">mPFC<tspan font-size="6.1" dy="-2.7">Foxp2</tspan></text>
<text x="44.20" y="0" font-size="14" stroke="none">→</text>
<text x="58.60" y="0" font-size="8.8" font-weight="bold">PTN</text>
</g>
<rect x="3.00" y="285.00" width="20.00" height="140.20" fill="#f5cccb" />
<path d="M23 285.6H684.6" stroke="#f794a6" stroke-width="0.95" stroke-dasharray="3.1 1.45" fill="none"/>
<path d="M684.6 285.6V424.5" stroke="#f794a6" stroke-width="1.1" stroke-dasharray="3.1 1.45" fill="none"/>
<path d="M23 424.5H684.6" stroke="#f794a6" stroke-width="1.1" stroke-dasharray="3.1 1.45" fill="none"/>
<g transform="translate(16.30 390.90) rotate(-90)" fill="#111" stroke="#111" stroke-width="0.15">
<text x="0" y="0" font-size="8.8" font-weight="bold">mPFC<tspan font-size="6.1" dy="-2.7">Foxp2</tspan></text>
<text x="44.20" y="0" font-size="14" stroke="none">→</text>
<text x="58.60" y="0" font-size="8.8" font-weight="bold">MD</text>
</g>
<rect x="3.00" y="431.70" width="20.80" height="142.30" fill="#fbc05f" />
<path d="M23.8 432.7H684.0" stroke="#f9b233" stroke-width="0.95" stroke-dasharray="2.6 1.95" fill="none"/>
<path d="M684.0 432.7V573.5" stroke="#f9b233" stroke-width="1.1" stroke-dasharray="2.6 1.95" fill="none"/>
<path d="M23.8 573.5H684.0" stroke="#f9b233" stroke-width="1.1" stroke-dasharray="2.6 1.95" fill="none"/>
<g transform="translate(16.30 538.40) rotate(-90)" fill="#111" stroke="#111" stroke-width="0.15">
<text x="0" y="0" font-size="8.8" font-weight="bold">mPFC<tspan font-size="6.1" dy="-2.7">Foxp2</tspan></text>
<text x="44.20" y="0" font-size="14" stroke="none">→</text>
<text x="58.60" y="0" font-size="8.8" font-weight="bold">VM</text>
</g>
<rect x="97.90" y="144.20" width="4.10" height="4.70" fill="#8c8c8c" />
<text x="105.50" y="149.30" font-size="8.9" text-anchor="start" fill="#111" stroke="#111" stroke-width="0.2" >EYFP</text>
<rect x="142.90" y="144.20" width="4.20" height="4.70" fill="#e06a6a" />
<text x="151.80" y="149.30" font-size="8.9" text-anchor="start" fill="#111" stroke="#111" stroke-width="0.2" >ChR2</text>
<text x="28.20" y="149.50" font-size="10" text-anchor="start" fill="#111" stroke="#111" stroke-width="0.2" font-weight="bold" >d</text>
<rect x="69.90" y="226.60" width="13.20" height="18.80" fill="#bdbdbd" />
<rect x="89.70" y="226.00" width="13.20" height="19.40" fill="#bdbdbd" />
<rect x="122.40" y="225.00" width="13.20" height="20.40" fill="#dc6b6b" />
<rect x="142.40" y="205.00" width="13.20" height="40.40" fill="#dc6b6b" />
<line x1="76.50" y1="225.40" x2="76.50" y2="226.60" stroke="#bdbdbd" stroke-width="0.7" />
<line x1="73.90" y1="225.40" x2="79.10" y2="225.40" stroke="#bdbdbd" stroke-width="0.7" />
<line x1="96.30" y1="224.80" x2="96.30" y2="226.00" stroke="#bdbdbd" stroke-width="0.7" />
<line x1="93.70" y1="224.80" x2="98.90" y2="224.80" stroke="#bdbdbd" stroke-width="0.7" />
<line x1="129.00" y1="223.80" x2="129.00" y2="225.00" stroke="#dc6b6b" stroke-width="0.7" />
<line x1="126.40" y1="223.80" x2="131.60" y2="223.80" stroke="#dc6b6b" stroke-width="0.7" />
<line x1="149.00" y1="202.80" x2="149.00" y2="205.00" stroke="#dc6b6b" stroke-width="0.7" />
<line x1="146.40" y1="202.80" x2="151.60" y2="202.80" stroke="#dc6b6b" stroke-width="0.7" />
<line x1="63.05" y1="245.40" x2="161.80" y2="245.40" stroke="#3c3c3c" stroke-width="0.9" />
<line x1="76.50" y1="245.40" x2="76.50" y2="250.20" stroke="#3c3c3c" stroke-width="0.9" />
<line x1="96.30" y1="245.40" x2="96.30" y2="250.20" stroke="#3c3c3c" stroke-width="0.9" />
<line x1="129.00" y1="245.40" x2="129.00" y2="250.20" stroke="#3c3c3c" stroke-width="0.9" />
<line x1="149.00" y1="245.40" x2="149.00" y2="250.20" stroke="#3c3c3c" stroke-width="0.9" />
<line x1="63.50" y1="170.85" x2="63.50" y2="245.85" stroke="#3c3c3c" stroke-width="0.9" />
<line x1="58.30" y1="245.40" x2="63.50" y2="245.40" stroke="#3c3c3c" stroke-width="0.9" />
<text x="56.90" y="248.50" font-size="8.7" text-anchor="end" fill="#111" stroke="#111" stroke-width="0.2" >0</text>
<line x1="58.30" y1="220.70" x2="63.50" y2="220.70" stroke="#3c3c3c" stroke-width="0.9" />
<text x="56.90" y="223.80" font-size="8.7" text-anchor="end" fill="#111" stroke="#111" stroke-width="0.2" >1</text>
<line x1="58.30" y1="196.00" x2="63.50" y2="196.00" stroke="#3c3c3c" stroke-width="0.9" />
<text x="56.90" y="199.10" font-size="8.7" text-anchor="end" fill="#111" stroke="#111" stroke-width="0.2" >2</text>
<line x1="58.30" y1="171.30" x2="63.50" y2="171.30" stroke="#3c3c3c" stroke-width="0.9" />
<text x="56.90" y="174.40" font-size="8.7" text-anchor="end" fill="#111" stroke="#111" stroke-width="0.2" >3</text>
<text transform="translate(46.90 208.35) rotate(-90)" text-anchor="middle" font-size="8.7" fill="#111" stroke="#111" stroke-width="0.2">Paw withdrawal threshold (g)</text>
<circle cx="71.60" cy="221.70" r="1.85" fill="#fff" stroke="#7a7a7a" stroke-width="0.75" />
<circle cx="73.90" cy="226.20" r="1.85" fill="#fff" stroke="#7a7a7a" stroke-width="0.75" />
<circle cx="77.40" cy="224.70" r="1.85" fill="#fff" stroke="#7a7a7a" stroke-width="0.75" />
<circle cx="81.20" cy="226.20" r="1.85" fill="#fff" stroke="#7a7a7a" stroke-width="0.75" />
<circle cx="78.30" cy="229.10" r="1.85" fill="#fff" stroke="#7a7a7a" stroke-width="0.75" />
<circle cx="73.90" cy="232.30" r="1.85" fill="#fff" stroke="#7a7a7a" stroke-width="0.75" />
<circle cx="91.40" cy="221.70" r="1.85" fill="#fff" stroke="#7a7a7a" stroke-width="0.75" />
<circle cx="100.80" cy="221.70" r="1.85" fill="#fff" stroke="#7a7a7a" stroke-width="0.75" />
<circle cx="91.40" cy="226.20" r="1.85" fill="#fff" stroke="#7a7a7a" stroke-width="0.75" />
<circle cx="97.90" cy="225.50" r="1.85" fill="#fff" stroke="#7a7a7a" stroke-width="0.75" />
<circle cx="97.90" cy="229.10" r="1.85" fill="#fff" stroke="#7a7a7a" stroke-width="0.75" />
<circle cx="100.80" cy="229.10" r="1.85" fill="#fff" stroke="#7a7a7a" stroke-width="0.75" />
<circle cx="91.40" cy="232.30" r="1.85" fill="#fff" stroke="#7a7a7a" stroke-width="0.75" />
<circle cx="124.30" cy="221.70" r="1.85" fill="#fff" stroke="#df6666" stroke-width="0.75" />
<circle cx="129.00" cy="221.70" r="1.85" fill="#fff" stroke="#df6666" stroke-width="0.75" />
<circle cx="124.30" cy="226.20" r="1.85" fill="#fff" stroke="#df6666" stroke-width="0.75" />
<circle cx="133.80" cy="225.50" r="1.85" fill="#fff" stroke="#df6666" stroke-width="0.75" />
<circle cx="129.00" cy="229.10" r="1.85" fill="#fff" stroke="#df6666" stroke-width="0.75" />
<circle cx="133.80" cy="229.40" r="1.85" fill="#fff" stroke="#df6666" stroke-width="0.75" />
<circle cx="124.30" cy="232.30" r="1.85" fill="#fff" stroke="#df6666" stroke-width="0.75" />
<circle cx="148.70" cy="200.90" r="1.85" fill="#fff" stroke="#df6666" stroke-width="0.75" />
<circle cx="144.00" cy="205.00" r="1.85" fill="#fff" stroke="#df6666" stroke-width="0.75" />
<circle cx="153.30" cy="205.00" r="1.85" fill="#fff" stroke="#df6666" stroke-width="0.75" />
<circle cx="147.20" cy="205.80" r="1.85" fill="#fff" stroke="#df6666" stroke-width="0.75" />
<circle cx="150.10" cy="208.20" r="1.85" fill="#fff" stroke="#df6666" stroke-width="0.75" />
<circle cx="146.90" cy="211.60" r="1.85" fill="#fff" stroke="#df6666" stroke-width="0.75" />
<circle cx="148.70" cy="189.60" r="1.85" fill="#fff" stroke="#df6666" stroke-width="0.75" />
<text x="76.50" y="259.20" font-size="8.7" text-anchor="middle" fill="#111" stroke="#111" stroke-width="0.2" >Off</text>
<text x="96.30" y="259.20" font-size="8.7" text-anchor="middle" fill="#111" stroke="#111" stroke-width="0.2" >On</text>
<text x="129.00" y="259.20" font-size="8.7" text-anchor="middle" fill="#111" stroke="#111" stroke-width="0.2" >Off</text>
<text x="149.00" y="259.20" font-size="8.7" text-anchor="middle" fill="#111" stroke="#111" stroke-width="0.2" >On</text>
<text x="64.00" y="156.90" font-size="8.7" text-anchor="start" fill="#111" stroke="#111" stroke-width="0.2" >VFT</text>
<line x1="93.40" y1="161.60" x2="152.30" y2="161.60" stroke="#2c2c2c" stroke-width="0.9" />
<text x="124.00" y="160.00" font-size="6.7" text-anchor="middle" fill="#111" stroke="#111" stroke-width="0.1"><tspan font-style="italic">P</tspan> &lt; 0.0001</text>
<line x1="126.20" y1="172.50" x2="152.00" y2="172.50" stroke="#2c2c2c" stroke-width="0.9" />
<text x="139.20" y="171.10" font-size="6.7" text-anchor="middle" fill="#111" stroke="#111" stroke-width="0.1"><tspan font-style="italic">P</tspan> &lt; 0.0001</text>
<rect x="200.10" y="201.80" width="13.20" height="43.60" fill="#bdbdbd" />
<rect x="219.80" y="203.60" width="13.20" height="41.80" fill="#bdbdbd" />
<rect x="252.40" y="202.60" width="13.20" height="42.80" fill="#dc6b6b" />
<rect x="272.10" y="187.00" width="13.20" height="58.40" fill="#dc6b6b" />
<line x1="206.70" y1="200.30" x2="206.70" y2="201.80" stroke="#bdbdbd" stroke-width="0.7" />
<line x1="204.10" y1="200.30" x2="209.30" y2="200.30" stroke="#bdbdbd" stroke-width="0.7" />
<line x1="226.40" y1="202.40" x2="226.40" y2="203.60" stroke="#bdbdbd" stroke-width="0.7" />
<line x1="223.80" y1="202.40" x2="229.00" y2="202.40" stroke="#bdbdbd" stroke-width="0.7" />
<line x1="259.00" y1="201.10" x2="259.00" y2="202.60" stroke="#dc6b6b" stroke-width="0.7" />
<line x1="256.40" y1="201.10" x2="261.60" y2="201.10" stroke="#dc6b6b" stroke-width="0.7" />
<line x1="278.70" y1="185.50" x2="278.70" y2="187.00" stroke="#dc6b6b" stroke-width="0.7" />
<line x1="276.10" y1="185.50" x2="281.30" y2="185.50" stroke="#dc6b6b" stroke-width="0.7" />
<line x1="193.05" y1="245.40" x2="291.80" y2="245.40" stroke="#3c3c3c" stroke-width="0.9" />
<line x1="206.70" y1="245.40" x2="206.70" y2="250.20" stroke="#3c3c3c" stroke-width="0.9" />
<line x1="226.40" y1="245.40" x2="226.40" y2="250.20" stroke="#3c3c3c" stroke-width="0.9" />
<line x1="259.00" y1="245.40" x2="259.00" y2="250.20" stroke="#3c3c3c" stroke-width="0.9" />
<line x1="278.70" y1="245.40" x2="278.70" y2="250.20" stroke="#3c3c3c" stroke-width="0.9" />
<line x1="193.50" y1="171.45" x2="193.50" y2="245.85" stroke="#3c3c3c" stroke-width="0.9" />
<line x1="188.30" y1="245.40" x2="193.50" y2="245.40" stroke="#3c3c3c" stroke-width="0.9" />
<text x="186.90" y="248.50" font-size="8.7" text-anchor="end" fill="#111" stroke="#111" stroke-width="0.2" >0</text>
<line x1="188.30" y1="230.70" x2="193.50" y2="230.70" stroke="#3c3c3c" stroke-width="0.9" />
<text x="186.90" y="233.80" font-size="8.7" text-anchor="end" fill="#111" stroke="#111" stroke-width="0.2" >5</text>
<line x1="188.30" y1="216.00" x2="193.50" y2="216.00" stroke="#3c3c3c" stroke-width="0.9" />
<text x="186.90" y="219.10" font-size="8.7" text-anchor="end" fill="#111" stroke="#111" stroke-width="0.2" >10</text>
<line x1="188.30" y1="201.30" x2="193.50" y2="201.30" stroke="#3c3c3c" stroke-width="0.9" />
<text x="186.90" y="204.40" font-size="8.7" text-anchor="end" fill="#111" stroke="#111" stroke-width="0.2" >15</text>
<line x1="188.30" y1="186.60" x2="193.50" y2="186.60" stroke="#3c3c3c" stroke-width="0.9" />
<text x="186.90" y="189.70" font-size="8.7" text-anchor="end" fill="#111" stroke="#111" stroke-width="0.2" >20</text>
<line x1="188.30" y1="171.90" x2="193.50" y2="171.90" stroke="#3c3c3c" stroke-width="0.9" />
<text x="186.90" y="175.00" font-size="8.7" text-anchor="end" fill="#111" stroke="#111" stroke-width="0.2" >25</text>
<text transform="translate(172.60 208.65) rotate(-90)" text-anchor="middle" font-size="8.7" fill="#111" stroke="#111" stroke-width="0.2">Paw withdrawal latency (s)</text>
<circle cx="202.10" cy="193.10" r="1.85" fill="#fff" stroke="#7a7a7a" stroke-width="0.75" />
<circle cx="206.60" cy="196.10" r="1.85" fill="#fff" stroke="#7a7a7a" stroke-width="0.75" />
<circle cx="202.10" cy="199.40" r="1.85" fill="#fff" stroke="#7a7a7a" stroke-width="0.75" />
<circle cx="206.60" cy="201.30" r="1.85" fill="#fff" stroke="#7a7a7a" stroke-width="0.75" />
<circle cx="206.60" cy="205.30" r="1.85" fill="#fff" stroke="#7a7a7a" stroke-width="0.75" />
<circle cx="211.50" cy="207.70" r="1.85" fill="#fff" stroke="#7a7a7a" stroke-width="0.75" />
<circle cx="202.10" cy="208.70" r="1.85" fill="#fff" stroke="#7a7a7a" stroke-width="0.75" />
<circle cx="227.80" cy="196.40" r="1.85" fill="#fff" stroke="#7a7a7a" stroke-width="0.75" />
<circle cx="224.80" cy="198.30" r="1.85" fill="#fff" stroke="#7a7a7a" stroke-width="0.75" />
<circle cx="224.80" cy="202.30" r="1.85" fill="#fff" stroke="#7a7a7a" stroke-width="0.75" />
<circle cx="230.70" cy="202.80" r="1.85" fill="#fff" stroke="#7a7a7a" stroke-width="0.75" />
<circle cx="221.40" cy="204.30" r="1.85" fill="#fff" stroke="#7a7a7a" stroke-width="0.75" />
<circle cx="227.80" cy="205.70" r="1.85" fill="#fff" stroke="#7a7a7a" stroke-width="0.75" />
<circle cx="224.80" cy="209.00" r="1.85" fill="#fff" stroke="#7a7a7a" stroke-width="0.75" />
<circle cx="258.90" cy="191.70" r="1.85" fill="#fff" stroke="#df6666" stroke-width="0.75" />
<circle cx="254.00" cy="200.10" r="1.85" fill="#fff" stroke="#df6666" stroke-width="0.75" />
<circle cx="258.90" cy="201.00" r="1.85" fill="#fff" stroke="#df6666" stroke-width="0.75" />
<circle cx="263.60" cy="200.10" r="1.85" fill="#fff" stroke="#df6666" stroke-width="0.75" />
<circle cx="258.90" cy="207.70" r="1.85" fill="#fff" stroke="#df6666" stroke-width="0.75" />
<circle cx="263.60" cy="207.70" r="1.85" fill="#fff" stroke="#df6666" stroke-width="0.75" />
<circle cx="254.30" cy="210.20" r="1.85" fill="#fff" stroke="#df6666" stroke-width="0.75" />
<circle cx="277.00" cy="178.80" r="1.85" fill="#fff" stroke="#df6666" stroke-width="0.75" />
<circle cx="279.90" cy="182.00" r="1.85" fill="#fff" stroke="#df6666" stroke-width="0.75" />
<circle cx="274.00" cy="186.50" r="1.85" fill="#fff" stroke="#df6666" stroke-width="0.75" />
<circle cx="277.00" cy="187.50" r="1.85" fill="#fff" stroke="#df6666" stroke-width="0.75" />
<circle cx="283.30" cy="187.50" r="1.85" fill="#fff" stroke="#df6666" stroke-width="0.75" />
<circle cx="279.90" cy="189.40" r="1.85" fill="#fff" stroke="#df6666" stroke-width="0.75" />
<circle cx="278.40" cy="195.70" r="1.85" fill="#fff" stroke="#df6666" stroke-width="0.75" />
<text x="206.70" y="259.20" font-size="8.7" text-anchor="middle" fill="#111" stroke="#111" stroke-width="0.2" >Off</text>
<text x="226.40" y="259.20" font-size="8.7" text-anchor="middle" fill="#111" stroke="#111" stroke-width="0.2" >On</text>
<text x="259.00" y="259.20" font-size="8.7" text-anchor="middle" fill="#111" stroke="#111" stroke-width="0.2" >Off</text>
<text x="278.70" y="259.20" font-size="8.7" text-anchor="middle" fill="#111" stroke="#111" stroke-width="0.2" >On</text>
<text x="195.80" y="155.80" font-size="8.7" text-anchor="start" fill="#111" stroke="#111" stroke-width="0.2" >HPT</text>
<line x1="224.50" y1="162.00" x2="282.80" y2="162.00" stroke="#2c2c2c" stroke-width="0.9" />
<text x="254.60" y="160.00" font-size="6.7" text-anchor="middle" fill="#111" stroke="#111" stroke-width="0.1"><tspan font-style="italic">P</tspan> &lt; 0.0001</text>
<line x1="256.20" y1="172.80" x2="282.30" y2="172.80" stroke="#2c2c2c" stroke-width="0.9" />
<text x="269.10" y="171.40" font-size="6.7" text-anchor="middle" fill="#111" stroke="#111" stroke-width="0.1"><tspan font-style="italic">P</tspan> &lt; 0.0001</text>
<rect x="98.10" y="289.10" width="4.10" height="4.70" fill="#8c8c8c" />
<text x="105.50" y="294.30" font-size="8.9" text-anchor="start" fill="#111" stroke="#111" stroke-width="0.2" >EYFP</text>
<rect x="142.90" y="289.10" width="4.20" height="4.70" fill="#f5a6a4" />
<text x="151.80" y="294.30" font-size="8.9" text-anchor="start" fill="#111" stroke="#111" stroke-width="0.2" >ChR2</text>
<text x="28.20" y="296.30" font-size="10" text-anchor="start" fill="#111" stroke="#111" stroke-width="0.2" font-weight="bold" >e</text>
<rect x="70.40" y="352.00" width="13.20" height="42.50" fill="#bdbdbd" />
<rect x="90.10" y="351.10" width="13.20" height="43.40" fill="#bdbdbd" />
<rect x="123.20" y="344.20" width="13.20" height="50.30" fill="#f0b0ab" />
<rect x="143.00" y="343.70" width="13.20" height="50.80" fill="#f0b0ab" />
<line x1="77.00" y1="349.50" x2="77.00" y2="352.00" stroke="#bdbdbd" stroke-width="0.7" />
<line x1="74.40" y1="349.50" x2="79.60" y2="349.50" stroke="#bdbdbd" stroke-width="0.7" />
<line x1="96.70" y1="348.60" x2="96.70" y2="351.10" stroke="#bdbdbd" stroke-width="0.7" />
<line x1="94.10" y1="348.60" x2="99.30" y2="348.60" stroke="#bdbdbd" stroke-width="0.7" />
<line x1="129.80" y1="342.00" x2="129.80" y2="344.20" stroke="#f0b0ab" stroke-width="0.7" />
<line x1="127.20" y1="342.00" x2="132.40" y2="342.00" stroke="#f0b0ab" stroke-width="0.7" />
<line x1="149.60" y1="339.80" x2="149.60" y2="343.70" stroke="#f0b0ab" stroke-width="0.7" />
<line x1="147.00" y1="339.80" x2="152.20" y2="339.80" stroke="#f0b0ab" stroke-width="0.7" />
<line x1="63.05" y1="394.50" x2="162.70" y2="394.50" stroke="#3c3c3c" stroke-width="0.9" />
<line x1="77.00" y1="394.50" x2="77.00" y2="399.30" stroke="#3c3c3c" stroke-width="0.9" />
<line x1="96.70" y1="394.50" x2="96.70" y2="399.30" stroke="#3c3c3c" stroke-width="0.9" />
<line x1="129.80" y1="394.50" x2="129.80" y2="399.30" stroke="#3c3c3c" stroke-width="0.9" />
<line x1="149.60" y1="394.50" x2="149.60" y2="399.30" stroke="#3c3c3c" stroke-width="0.9" />
<line x1="63.50" y1="320.05" x2="63.50" y2="394.95" stroke="#3c3c3c" stroke-width="0.9" />
<line x1="58.30" y1="394.50" x2="63.50" y2="394.50" stroke="#3c3c3c" stroke-width="0.9" />
<text x="56.90" y="397.60" font-size="8.7" text-anchor="end" fill="#111" stroke="#111" stroke-width="0.2" >0.0</text>
<line x1="58.30" y1="379.70" x2="63.50" y2="379.70" stroke="#3c3c3c" stroke-width="0.9" />
<text x="56.90" y="382.80" font-size="8.7" text-anchor="end" fill="#111" stroke="#111" stroke-width="0.2" >0.2</text>
<line x1="58.30" y1="364.90" x2="63.50" y2="364.90" stroke="#3c3c3c" stroke-width="0.9" />
<text x="56.90" y="368.00" font-size="8.7" text-anchor="end" fill="#111" stroke="#111" stroke-width="0.2" >0.4</text>
<line x1="58.30" y1="350.10" x2="63.50" y2="350.10" stroke="#3c3c3c" stroke-width="0.9" />
<text x="56.90" y="353.20" font-size="8.7" text-anchor="end" fill="#111" stroke="#111" stroke-width="0.2" >0.6</text>
<line x1="58.30" y1="335.30" x2="63.50" y2="335.30" stroke="#3c3c3c" stroke-width="0.9" />
<text x="56.90" y="338.40" font-size="8.7" text-anchor="end" fill="#111" stroke="#111" stroke-width="0.2" >0.8</text>
<line x1="58.30" y1="320.50" x2="63.50" y2="320.50" stroke="#3c3c3c" stroke-width="0.9" />
<text x="56.90" y="323.60" font-size="8.7" text-anchor="end" fill="#111" stroke="#111" stroke-width="0.2" >1.0</text>
<text transform="translate(40.30 357.50) rotate(-90)" text-anchor="middle" font-size="8.7" fill="#111" stroke="#111" stroke-width="0.2">Paw withdrawal threshold (g)</text>
<circle cx="76.90" cy="337.40" r="1.85" fill="#fff" stroke="#7a7a7a" stroke-width="0.75" />
<circle cx="72.20" cy="346.40" r="1.85" fill="#fff" stroke="#7a7a7a" stroke-width="0.75" />
<circle cx="76.90" cy="347.60" r="1.85" fill="#fff" stroke="#7a7a7a" stroke-width="0.75" />
<circle cx="81.60" cy="346.00" r="1.85" fill="#fff" stroke="#7a7a7a" stroke-width="0.75" />
<circle cx="76.90" cy="355.10" r="1.85" fill="#fff" stroke="#7a7a7a" stroke-width="0.75" />
<circle cx="76.90" cy="361.30" r="1.85" fill="#fff" stroke="#7a7a7a" stroke-width="0.75" />
<circle cx="76.90" cy="372.40" r="1.85" fill="#fff" stroke="#7a7a7a" stroke-width="0.75" />
<circle cx="96.60" cy="337.40" r="1.85" fill="#fff" stroke="#7a7a7a" stroke-width="0.75" />
<circle cx="91.90" cy="346.40" r="1.85" fill="#fff" stroke="#7a7a7a" stroke-width="0.75" />
<circle cx="96.60" cy="347.60" r="1.85" fill="#fff" stroke="#7a7a7a" stroke-width="0.75" />
<circle cx="101.60" cy="346.00" r="1.85" fill="#fff" stroke="#7a7a7a" stroke-width="0.75" />
<circle cx="94.10" cy="355.10" r="1.85" fill="#fff" stroke="#7a7a7a" stroke-width="0.75" />
<circle cx="99.30" cy="355.10" r="1.85" fill="#fff" stroke="#7a7a7a" stroke-width="0.75" />
<circle cx="96.60" cy="372.40" r="1.85" fill="#fff" stroke="#7a7a7a" stroke-width="0.75" />
<circle cx="125.10" cy="334.30" r="1.85" fill="#fff" stroke="#f2a39d" stroke-width="0.75" />
<circle cx="134.50" cy="332.40" r="1.85" fill="#fff" stroke="#f2a39d" stroke-width="0.75" />
<circle cx="134.50" cy="337.40" r="1.85" fill="#fff" stroke="#f2a39d" stroke-width="0.75" />
<circle cx="125.10" cy="346.00" r="1.85" fill="#fff" stroke="#f2a39d" stroke-width="0.75" />
<circle cx="134.50" cy="347.60" r="1.85" fill="#fff" stroke="#f2a39d" stroke-width="0.75" />
<circle cx="125.10" cy="355.10" r="1.85" fill="#fff" stroke="#f2a39d" stroke-width="0.75" />
<circle cx="134.50" cy="355.10" r="1.85" fill="#fff" stroke="#f2a39d" stroke-width="0.75" />
<circle cx="129.80" cy="360.90" r="1.85" fill="#fff" stroke="#f2a39d" stroke-width="0.75" />
<circle cx="149.70" cy="324.40" r="1.85" fill="#fff" stroke="#f2a39d" stroke-width="0.75" />
<circle cx="149.70" cy="332.40" r="1.85" fill="#fff" stroke="#f2a39d" stroke-width="0.75" />
<circle cx="149.70" cy="337.40" r="1.85" fill="#fff" stroke="#f2a39d" stroke-width="0.75" />
<circle cx="147.10" cy="346.00" r="1.85" fill="#fff" stroke="#f2a39d" stroke-width="0.75" />
<circle cx="152.10" cy="346.00" r="1.85" fill="#fff" stroke="#f2a39d" stroke-width="0.75" />
<circle cx="145.00" cy="355.10" r="1.85" fill="#fff" stroke="#f2a39d" stroke-width="0.75" />
<circle cx="149.70" cy="355.10" r="1.85" fill="#fff" stroke="#f2a39d" stroke-width="0.75" />
<circle cx="154.40" cy="355.10" r="1.85" fill="#fff" stroke="#f2a39d" stroke-width="0.75" />
<text x="77.00" y="408.60" font-size="8.7" text-anchor="middle" fill="#111" stroke="#111" stroke-width="0.2" >Off</text>
<text x="96.70" y="408.60" font-size="8.7" text-anchor="middle" fill="#111" stroke="#111" stroke-width="0.2" >On</text>
<text x="129.80" y="408.60" font-size="8.7" text-anchor="middle" fill="#111" stroke="#111" stroke-width="0.2" >Off</text>
<text x="149.60" y="408.60" font-size="8.7" text-anchor="middle" fill="#111" stroke="#111" stroke-width="0.2" >On</text>
<text x="64.10" y="305.80" font-size="8.7" text-anchor="start" fill="#111" stroke="#111" stroke-width="0.2" >VFT</text>
<line x1="96.50" y1="308.50" x2="158.00" y2="308.50" stroke="#2c2c2c" stroke-width="0.9" />
<text x="127.70" y="306.60" font-size="7.2" text-anchor="middle" fill="#111" stroke="#111" stroke-width="0.1" >ns</text>
<line x1="124.30" y1="318.90" x2="157.70" y2="318.90" stroke="#2c2c2c" stroke-width="0.9" />
<text x="140.30" y="317.00" font-size="7.2" text-anchor="middle" fill="#111" stroke="#111" stroke-width="0.1" >ns</text>
<rect x="200.20" y="344.40" width="13.20" height="50.10" fill="#bdbdbd" />
<rect x="220.00" y="348.00" width="13.20" height="46.50" fill="#bdbdbd" />
<rect x="253.20" y="342.90" width="13.20" height="51.60" fill="#f0b0ab" />
<rect x="273.00" y="345.80" width="13.20" height="48.70" fill="#f0b0ab" />
<line x1="206.80" y1="342.90" x2="206.80" y2="344.40" stroke="#bdbdbd" stroke-width="0.7" />
<line x1="204.20" y1="342.90" x2="209.40" y2="342.90" stroke="#bdbdbd" stroke-width="0.7" />
<line x1="226.60" y1="346.20" x2="226.60" y2="348.00" stroke="#bdbdbd" stroke-width="0.7" />
<line x1="224.00" y1="346.20" x2="229.20" y2="346.20" stroke="#bdbdbd" stroke-width="0.7" />
<line x1="259.80" y1="341.70" x2="259.80" y2="342.90" stroke="#f0b0ab" stroke-width="0.7" />
<line x1="257.20" y1="341.70" x2="262.40" y2="341.70" stroke="#f0b0ab" stroke-width="0.7" />
<line x1="279.60" y1="344.30" x2="279.60" y2="345.80" stroke="#f0b0ab" stroke-width="0.7" />
<line x1="277.00" y1="344.30" x2="282.20" y2="344.30" stroke="#f0b0ab" stroke-width="0.7" />
<line x1="193.05" y1="394.50" x2="292.50" y2="394.50" stroke="#3c3c3c" stroke-width="0.9" />
<line x1="206.80" y1="394.50" x2="206.80" y2="399.30" stroke="#3c3c3c" stroke-width="0.9" />
<line x1="226.60" y1="394.50" x2="226.60" y2="399.30" stroke="#3c3c3c" stroke-width="0.9" />
<line x1="259.80" y1="394.50" x2="259.80" y2="399.30" stroke="#3c3c3c" stroke-width="0.9" />
<line x1="279.60" y1="394.50" x2="279.60" y2="399.30" stroke="#3c3c3c" stroke-width="0.9" />
<line x1="193.50" y1="320.45" x2="193.50" y2="394.95" stroke="#3c3c3c" stroke-width="0.9" />
<line x1="188.30" y1="394.50" x2="193.50" y2="394.50" stroke="#3c3c3c" stroke-width="0.9" />
<text x="186.90" y="397.60" font-size="8.7" text-anchor="end" fill="#111" stroke="#111" stroke-width="0.2" >0</text>
<line x1="188.30" y1="379.78" x2="193.50" y2="379.78" stroke="#3c3c3c" stroke-width="0.9" />
<text x="186.90" y="382.88" font-size="8.7" text-anchor="end" fill="#111" stroke="#111" stroke-width="0.2" >5</text>
<line x1="188.30" y1="365.06" x2="193.50" y2="365.06" stroke="#3c3c3c" stroke-width="0.9" />
<text x="186.90" y="368.16" font-size="8.7" text-anchor="end" fill="#111" stroke="#111" stroke-width="0.2" >10</text>
<line x1="188.30" y1="350.34" x2="193.50" y2="350.34" stroke="#3c3c3c" stroke-width="0.9" />
<text x="186.90" y="353.44" font-size="8.7" text-anchor="end" fill="#111" stroke="#111" stroke-width="0.2" >15</text>
<line x1="188.30" y1="335.62" x2="193.50" y2="335.62" stroke="#3c3c3c" stroke-width="0.9" />
<text x="186.90" y="338.72" font-size="8.7" text-anchor="end" fill="#111" stroke="#111" stroke-width="0.2" >20</text>
<line x1="188.30" y1="320.90" x2="193.50" y2="320.90" stroke="#3c3c3c" stroke-width="0.9" />
<text x="186.90" y="324.00" font-size="8.7" text-anchor="end" fill="#111" stroke="#111" stroke-width="0.2" >25</text>
<text transform="translate(172.60 357.70) rotate(-90)" text-anchor="middle" font-size="8.7" fill="#111" stroke="#111" stroke-width="0.2">Paw withdrawal latency (s)</text>
<circle cx="206.80" cy="335.60" r="1.85" fill="#fff" stroke="#7a7a7a" stroke-width="0.75" />
<circle cx="202.20" cy="340.30" r="1.85" fill="#fff" stroke="#7a7a7a" stroke-width="0.75" />
<circle cx="211.40" cy="341.60" r="1.85" fill="#fff" stroke="#7a7a7a" stroke-width="0.75" />
<circle cx="206.80" cy="343.40" r="1.85" fill="#fff" stroke="#7a7a7a" stroke-width="0.75" />
<circle cx="204.60" cy="347.70" r="1.85" fill="#fff" stroke="#7a7a7a" stroke-width="0.75" />
<circle cx="209.20" cy="348.60" r="1.85" fill="#fff" stroke="#7a7a7a" stroke-width="0.75" />
<circle cx="206.80" cy="353.00" r="1.85" fill="#fff" stroke="#7a7a7a" stroke-width="0.75" />
<circle cx="226.50" cy="337.40" r="1.85" fill="#fff" stroke="#7a7a7a" stroke-width="0.75" />
<circle cx="224.20" cy="344.00" r="1.85" fill="#fff" stroke="#7a7a7a" stroke-width="0.75" />
<circle cx="229.10" cy="344.00" r="1.85" fill="#fff" stroke="#7a7a7a" stroke-width="0.75" />
<circle cx="226.50" cy="346.60" r="1.85" fill="#fff" stroke="#7a7a7a" stroke-width="0.75" />
<circle cx="222.30" cy="350.80" r="1.85" fill="#fff" stroke="#7a7a7a" stroke-width="0.75" />
<circle cx="226.50" cy="351.70" r="1.85" fill="#fff" stroke="#7a7a7a" stroke-width="0.75" />
<circle cx="231.50" cy="353.50" r="1.85" fill="#fff" stroke="#7a7a7a" stroke-width="0.75" />
<circle cx="221.80" cy="355.70" r="1.85" fill="#fff" stroke="#7a7a7a" stroke-width="0.75" />
<circle cx="257.40" cy="338.00" r="1.85" fill="#fff" stroke="#f2a39d" stroke-width="0.75" />
<circle cx="262.00" cy="337.00" r="1.85" fill="#fff" stroke="#f2a39d" stroke-width="0.75" />
<circle cx="264.40" cy="341.60" r="1.85" fill="#fff" stroke="#f2a39d" stroke-width="0.75" />
<circle cx="255.20" cy="344.00" r="1.85" fill="#fff" stroke="#f2a39d" stroke-width="0.75" />
<circle cx="259.80" cy="344.40" r="1.85" fill="#fff" stroke="#f2a39d" stroke-width="0.75" />
<circle cx="264.40" cy="346.60" r="1.85" fill="#fff" stroke="#f2a39d" stroke-width="0.75" />
<circle cx="259.80" cy="348.90" r="1.85" fill="#fff" stroke="#f2a39d" stroke-width="0.75" />
<circle cx="264.40" cy="351.30" r="1.85" fill="#fff" stroke="#f2a39d" stroke-width="0.75" />
<circle cx="255.20" cy="353.50" r="1.85" fill="#fff" stroke="#f2a39d" stroke-width="0.75" />
<circle cx="279.60" cy="335.60" r="1.85" fill="#fff" stroke="#f2a39d" stroke-width="0.75" />
<circle cx="284.50" cy="341.10" r="1.85" fill="#fff" stroke="#f2a39d" stroke-width="0.75" />
<circle cx="274.40" cy="343.40" r="1.85" fill="#fff" stroke="#f2a39d" stroke-width="0.75" />
<circle cx="281.80" cy="344.00" r="1.85" fill="#fff" stroke="#f2a39d" stroke-width="0.75" />
<circle cx="277.20" cy="344.40" r="1.85" fill="#fff" stroke="#f2a39d" stroke-width="0.75" />
<circle cx="279.60" cy="348.90" r="1.85" fill="#fff" stroke="#f2a39d" stroke-width="0.75" />
<circle cx="281.80" cy="352.60" r="1.85" fill="#fff" stroke="#f2a39d" stroke-width="0.75" />
<circle cx="278.10" cy="355.00" r="1.85" fill="#fff" stroke="#f2a39d" stroke-width="0.75" />
<text x="206.80" y="408.60" font-size="8.7" text-anchor="middle" fill="#111" stroke="#111" stroke-width="0.2" >Off</text>
<text x="226.60" y="408.60" font-size="8.7" text-anchor="middle" fill="#111" stroke="#111" stroke-width="0.2" >On</text>
<text x="259.80" y="408.60" font-size="8.7" text-anchor="middle" fill="#111" stroke="#111" stroke-width="0.2" >Off</text>
<text x="279.60" y="408.60" font-size="8.7" text-anchor="middle" fill="#111" stroke="#111" stroke-width="0.2" >On</text>
<text x="195.80" y="306.00" font-size="8.7" text-anchor="start" fill="#111" stroke="#111" stroke-width="0.2" >HPT</text>
<line x1="226.90" y1="308.70" x2="287.80" y2="308.70" stroke="#2c2c2c" stroke-width="0.9" />
<text x="258.00" y="306.60" font-size="7.2" text-anchor="middle" fill="#111" stroke="#111" stroke-width="0.1" >ns</text>
<line x1="254.30" y1="319.10" x2="287.80" y2="319.10" stroke="#2c2c2c" stroke-width="0.9" />
<text x="270.20" y="317.20" font-size="7.2" text-anchor="middle" fill="#111" stroke="#111" stroke-width="0.1" >ns</text>
<rect x="98.60" y="439.90" width="3.70" height="4.60" fill="#8c8c8c" />
<text x="105.50" y="445.00" font-size="8.9" text-anchor="start" fill="#111" stroke="#111" stroke-width="0.2" >EYFP</text>
<rect x="143.20" y="439.90" width="4.00" height="4.60" fill="#fbb84e" />
<text x="151.80" y="445.00" font-size="8.9" text-anchor="start" fill="#111" stroke="#111" stroke-width="0.2" >ChR2</text>
<text x="30.00" y="445.60" font-size="10" text-anchor="start" fill="#111" stroke="#111" stroke-width="0.2" font-weight="bold" >f</text>
<rect x="70.40" y="502.60" width="13.20" height="40.60" fill="#bdbdbd" />
<rect x="90.10" y="500.00" width="13.20" height="43.20" fill="#bdbdbd" />
<rect x="123.20" y="494.00" width="13.20" height="49.20" fill="#fbbf5e" />
<rect x="143.20" y="498.90" width="13.20" height="44.30" fill="#fbbf5e" />
<line x1="77.00" y1="498.90" x2="77.00" y2="502.60" stroke="#bdbdbd" stroke-width="0.7" />
<line x1="74.40" y1="498.90" x2="79.60" y2="498.90" stroke="#bdbdbd" stroke-width="0.7" />
<line x1="96.70" y1="496.50" x2="96.70" y2="500.00" stroke="#bdbdbd" stroke-width="0.7" />
<line x1="94.10" y1="496.50" x2="99.30" y2="496.50" stroke="#bdbdbd" stroke-width="0.7" />
<line x1="129.80" y1="489.80" x2="129.80" y2="494.00" stroke="#fbbf5e" stroke-width="0.7" />
<line x1="127.20" y1="489.80" x2="132.40" y2="489.80" stroke="#fbbf5e" stroke-width="0.7" />
<line x1="149.80" y1="495.30" x2="149.80" y2="498.90" stroke="#fbbf5e" stroke-width="0.7" />
<line x1="147.20" y1="495.30" x2="152.40" y2="495.30" stroke="#fbbf5e" stroke-width="0.7" />
<line x1="63.05" y1="543.20" x2="162.70" y2="543.20" stroke="#3c3c3c" stroke-width="0.9" />
<line x1="77.00" y1="543.20" x2="77.00" y2="548.00" stroke="#3c3c3c" stroke-width="0.9" />
<line x1="96.70" y1="543.20" x2="96.70" y2="548.00" stroke="#3c3c3c" stroke-width="0.9" />
<line x1="129.80" y1="543.20" x2="129.80" y2="548.00" stroke="#3c3c3c" stroke-width="0.9" />
<line x1="149.80" y1="543.20" x2="149.80" y2="548.00" stroke="#3c3c3c" stroke-width="0.9" />
<line x1="63.50" y1="468.75" x2="63.50" y2="543.65" stroke="#3c3c3c" stroke-width="0.9" />
<line x1="58.30" y1="543.20" x2="63.50" y2="543.20" stroke="#3c3c3c" stroke-width="0.9" />
<text x="56.90" y="546.30" font-size="8.7" text-anchor="end" fill="#111" stroke="#111" stroke-width="0.2" >0.0</text>
<line x1="58.30" y1="528.40" x2="63.50" y2="528.40" stroke="#3c3c3c" stroke-width="0.9" />
<text x="56.90" y="531.50" font-size="8.7" text-anchor="end" fill="#111" stroke="#111" stroke-width="0.2" >0.2</text>
<line x1="58.30" y1="513.60" x2="63.50" y2="513.60" stroke="#3c3c3c" stroke-width="0.9" />
<text x="56.90" y="516.70" font-size="8.7" text-anchor="end" fill="#111" stroke="#111" stroke-width="0.2" >0.4</text>
<line x1="58.30" y1="498.80" x2="63.50" y2="498.80" stroke="#3c3c3c" stroke-width="0.9" />
<text x="56.90" y="501.90" font-size="8.7" text-anchor="end" fill="#111" stroke="#111" stroke-width="0.2" >0.6</text>
<line x1="58.30" y1="484.00" x2="63.50" y2="484.00" stroke="#3c3c3c" stroke-width="0.9" />
<text x="56.90" y="487.10" font-size="8.7" text-anchor="end" fill="#111" stroke="#111" stroke-width="0.2" >0.8</text>
<line x1="58.30" y1="469.20" x2="63.50" y2="469.20" stroke="#3c3c3c" stroke-width="0.9" />
<text x="56.90" y="472.30" font-size="8.7" text-anchor="end" fill="#111" stroke="#111" stroke-width="0.2" >1.0</text>
<text transform="translate(40.50 506.20) rotate(-90)" text-anchor="middle" font-size="8.7" fill="#111" stroke="#111" stroke-width="0.2">Paw withdrawal threshold (g)</text>
<circle cx="72.20" cy="494.50" r="1.85" fill="#fff" stroke="#7a7a7a" stroke-width="0.75" />
<circle cx="75.30" cy="494.50" r="1.85" fill="#fff" stroke="#7a7a7a" stroke-width="0.75" />
<circle cx="78.40" cy="494.50" r="1.85" fill="#fff" stroke="#7a7a7a" stroke-width="0.75" />
<circle cx="81.60" cy="494.50" r="1.85" fill="#fff" stroke="#7a7a7a" stroke-width="0.75" />
<circle cx="76.90" cy="503.10" r="1.85" fill="#fff" stroke="#7a7a7a" stroke-width="0.75" />
<circle cx="75.00" cy="510.20" r="1.85" fill="#fff" stroke="#7a7a7a" stroke-width="0.75" />
<circle cx="78.90" cy="510.20" r="1.85" fill="#fff" stroke="#7a7a7a" stroke-width="0.75" />
<circle cx="76.90" cy="520.80" r="1.85" fill="#fff" stroke="#7a7a7a" stroke-width="0.75" />
<circle cx="96.60" cy="473.00" r="1.85" fill="#fff" stroke="#7a7a7a" stroke-width="0.75" />
<circle cx="96.60" cy="494.20" r="1.85" fill="#fff" stroke="#7a7a7a" stroke-width="0.75" />
<circle cx="91.90" cy="496.40" r="1.85" fill="#fff" stroke="#7a7a7a" stroke-width="0.75" />
<circle cx="101.60" cy="496.40" r="1.85" fill="#fff" stroke="#7a7a7a" stroke-width="0.75" />
<circle cx="94.30" cy="503.60" r="1.85" fill="#fff" stroke="#7a7a7a" stroke-width="0.75" />
<circle cx="99.30" cy="503.60" r="1.85" fill="#fff" stroke="#7a7a7a" stroke-width="0.75" />
<circle cx="96.60" cy="510.20" r="1.85" fill="#fff" stroke="#7a7a7a" stroke-width="0.75" />
<circle cx="96.60" cy="520.80" r="1.85" fill="#fff" stroke="#7a7a7a" stroke-width="0.75" />
<circle cx="129.80" cy="473.00" r="1.85" fill="#fff" stroke="#f9b233" stroke-width="0.75" />
<circle cx="129.80" cy="485.90" r="1.85" fill="#fff" stroke="#f9b233" stroke-width="0.75" />
<circle cx="125.10" cy="494.20" r="1.85" fill="#fff" stroke="#f9b233" stroke-width="0.75" />
<circle cx="129.80" cy="496.40" r="1.85" fill="#fff" stroke="#f9b233" stroke-width="0.75" />
<circle cx="125.10" cy="503.60" r="1.85" fill="#fff" stroke="#f9b233" stroke-width="0.75" />
<circle cx="129.80" cy="503.60" r="1.85" fill="#fff" stroke="#f9b233" stroke-width="0.75" />
<circle cx="134.50" cy="503.60" r="1.85" fill="#fff" stroke="#f9b233" stroke-width="0.75" />
<circle cx="149.70" cy="483.50" r="1.85" fill="#fff" stroke="#f9b233" stroke-width="0.75" />
<circle cx="147.10" cy="494.20" r="1.85" fill="#fff" stroke="#f9b233" stroke-width="0.75" />
<circle cx="152.10" cy="494.20" r="1.85" fill="#fff" stroke="#f9b233" stroke-width="0.75" />
<circle cx="145.00" cy="503.60" r="1.85" fill="#fff" stroke="#f9b233" stroke-width="0.75" />
<circle cx="149.70" cy="503.60" r="1.85" fill="#fff" stroke="#f9b233" stroke-width="0.75" />
<circle cx="154.40" cy="503.60" r="1.85" fill="#fff" stroke="#f9b233" stroke-width="0.75" />
<circle cx="149.70" cy="510.20" r="1.85" fill="#fff" stroke="#f9b233" stroke-width="0.75" />
<text x="77.00" y="556.90" font-size="8.7" text-anchor="middle" fill="#111" stroke="#111" stroke-width="0.2" >Off</text>
<text x="96.70" y="556.90" font-size="8.7" text-anchor="middle" fill="#111" stroke="#111" stroke-width="0.2" >On</text>
<text x="129.80" y="556.90" font-size="8.7" text-anchor="middle" fill="#111" stroke="#111" stroke-width="0.2" >Off</text>
<text x="149.80" y="556.90" font-size="8.7" text-anchor="middle" fill="#111" stroke="#111" stroke-width="0.2" >On</text>
<text x="65.10" y="456.70" font-size="8.7" text-anchor="start" fill="#111" stroke="#111" stroke-width="0.2" >VFT</text>
<line x1="96.80" y1="457.20" x2="158.10" y2="457.20" stroke="#2c2c2c" stroke-width="0.9" />
<text x="127.70" y="455.20" font-size="7.2" text-anchor="middle" fill="#111" stroke="#111" stroke-width="0.1" >ns</text>
<line x1="124.30" y1="467.60" x2="157.70" y2="467.60" stroke="#2c2c2c" stroke-width="0.9" />
<text x="140.30" y="465.80" font-size="7.2" text-anchor="middle" fill="#111" stroke="#111" stroke-width="0.1" >ns</text>
<rect x="200.20" y="490.70" width="13.20" height="52.50" fill="#bdbdbd" />
<rect x="220.00" y="495.80" width="13.20" height="47.40" fill="#bdbdbd" />
<rect x="253.20" y="489.80" width="13.20" height="53.40" fill="#fbbf5e" />
<rect x="273.00" y="494.00" width="13.20" height="49.20" fill="#fbbf5e" />
<line x1="206.80" y1="489.20" x2="206.80" y2="490.70" stroke="#bdbdbd" stroke-width="0.7" />
<line x1="204.20" y1="489.20" x2="209.40" y2="489.20" stroke="#bdbdbd" stroke-width="0.7" />
<line x1="226.60" y1="493.60" x2="226.60" y2="495.80" stroke="#bdbdbd" stroke-width="0.7" />
<line x1="224.00" y1="493.60" x2="229.20" y2="493.60" stroke="#bdbdbd" stroke-width="0.7" />
<line x1="259.80" y1="488.60" x2="259.80" y2="489.80" stroke="#fbbf5e" stroke-width="0.7" />
<line x1="257.20" y1="488.60" x2="262.40" y2="488.60" stroke="#fbbf5e" stroke-width="0.7" />
<line x1="279.60" y1="492.20" x2="279.60" y2="494.00" stroke="#fbbf5e" stroke-width="0.7" />
<line x1="277.00" y1="492.20" x2="282.20" y2="492.20" stroke="#fbbf5e" stroke-width="0.7" />
<line x1="193.05" y1="543.20" x2="292.00" y2="543.20" stroke="#3c3c3c" stroke-width="0.9" />
<line x1="206.80" y1="543.20" x2="206.80" y2="548.00" stroke="#3c3c3c" stroke-width="0.9" />
<line x1="226.60" y1="543.20" x2="226.60" y2="548.00" stroke="#3c3c3c" stroke-width="0.9" />
<line x1="259.80" y1="543.20" x2="259.80" y2="548.00" stroke="#3c3c3c" stroke-width="0.9" />
<line x1="279.60" y1="543.20" x2="279.60" y2="548.00" stroke="#3c3c3c" stroke-width="0.9" />
<line x1="193.50" y1="469.15" x2="193.50" y2="543.65" stroke="#3c3c3c" stroke-width="0.9" />
<line x1="188.30" y1="543.20" x2="193.50" y2="543.20" stroke="#3c3c3c" stroke-width="0.9" />
<text x="186.90" y="546.30" font-size="8.7" text-anchor="end" fill="#111" stroke="#111" stroke-width="0.2" >0</text>
<line x1="188.30" y1="528.48" x2="193.50" y2="528.48" stroke="#3c3c3c" stroke-width="0.9" />
<text x="186.90" y="531.58" font-size="8.7" text-anchor="end" fill="#111" stroke="#111" stroke-width="0.2" >5</text>
<line x1="188.30" y1="513.76" x2="193.50" y2="513.76" stroke="#3c3c3c" stroke-width="0.9" />
<text x="186.90" y="516.86" font-size="8.7" text-anchor="end" fill="#111" stroke="#111" stroke-width="0.2" >10</text>
<line x1="188.30" y1="499.04" x2="193.50" y2="499.04" stroke="#3c3c3c" stroke-width="0.9" />
<text x="186.90" y="502.14" font-size="8.7" text-anchor="end" fill="#111" stroke="#111" stroke-width="0.2" >15</text>
<line x1="188.30" y1="484.32" x2="193.50" y2="484.32" stroke="#3c3c3c" stroke-width="0.9" />
<text x="186.90" y="487.42" font-size="8.7" text-anchor="end" fill="#111" stroke="#111" stroke-width="0.2" >20</text>
<line x1="188.30" y1="469.60" x2="193.50" y2="469.60" stroke="#3c3c3c" stroke-width="0.9" />
<text x="186.90" y="472.70" font-size="8.7" text-anchor="end" fill="#111" stroke="#111" stroke-width="0.2" >25</text>
<text transform="translate(172.60 506.40) rotate(-90)" text-anchor="middle" font-size="8.7" fill="#111" stroke="#111" stroke-width="0.2">Paw withdrawal latency (s)</text>
<circle cx="205.30" cy="480.60" r="1.85" fill="#fff" stroke="#7a7a7a" stroke-width="0.75" />
<circle cx="208.30" cy="483.80" r="1.85" fill="#fff" stroke="#7a7a7a" stroke-width="0.75" />
<circle cx="205.30" cy="488.90" r="1.85" fill="#fff" stroke="#7a7a7a" stroke-width="0.75" />
<circle cx="202.20" cy="492.50" r="1.85" fill="#fff" stroke="#7a7a7a" stroke-width="0.75" />
<circle cx="206.80" cy="492.90" r="1.85" fill="#fff" stroke="#7a7a7a" stroke-width="0.75" />
<circle cx="211.40" cy="493.40" r="1.85" fill="#fff" stroke="#7a7a7a" stroke-width="0.75" />
<circle cx="202.20" cy="496.60" r="1.85" fill="#fff" stroke="#7a7a7a" stroke-width="0.75" />
<circle cx="208.30" cy="496.60" r="1.85" fill="#fff" stroke="#7a7a7a" stroke-width="0.75" />
<circle cx="226.50" cy="481.60" r="1.85" fill="#fff" stroke="#7a7a7a" stroke-width="0.75" />
<circle cx="222.30" cy="491.60" r="1.85" fill="#fff" stroke="#7a7a7a" stroke-width="0.75" />
<circle cx="226.50" cy="492.90" r="1.85" fill="#fff" stroke="#7a7a7a" stroke-width="0.75" />
<circle cx="231.10" cy="492.90" r="1.85" fill="#fff" stroke="#7a7a7a" stroke-width="0.75" />
<circle cx="226.50" cy="498.90" r="1.85" fill="#fff" stroke="#7a7a7a" stroke-width="0.75" />
<circle cx="226.50" cy="503.90" r="1.85" fill="#fff" stroke="#7a7a7a" stroke-width="0.75" />
<circle cx="226.50" cy="513.90" r="1.85" fill="#fff" stroke="#7a7a7a" stroke-width="0.75" />
<circle cx="255.20" cy="485.60" r="1.85" fill="#fff" stroke="#f9b233" stroke-width="0.75" />
<circle cx="264.40" cy="486.10" r="1.85" fill="#fff" stroke="#f9b233" stroke-width="0.75" />
<circle cx="259.80" cy="488.90" r="1.85" fill="#fff" stroke="#f9b233" stroke-width="0.75" />
<circle cx="255.20" cy="489.80" r="1.85" fill="#fff" stroke="#f9b233" stroke-width="0.75" />
<circle cx="264.40" cy="491.60" r="1.85" fill="#fff" stroke="#f9b233" stroke-width="0.75" />
<circle cx="259.80" cy="492.90" r="1.85" fill="#fff" stroke="#f9b233" stroke-width="0.75" />
<circle cx="259.80" cy="502.60" r="1.85" fill="#fff" stroke="#f9b233" stroke-width="0.75" />
<circle cx="279.60" cy="483.80" r="1.85" fill="#fff" stroke="#f9b233" stroke-width="0.75" />
<circle cx="275.00" cy="488.30" r="1.85" fill="#fff" stroke="#f9b233" stroke-width="0.75" />
<circle cx="284.50" cy="489.80" r="1.85" fill="#fff" stroke="#f9b233" stroke-width="0.75" />
<circle cx="284.50" cy="494.40" r="1.85" fill="#fff" stroke="#f9b233" stroke-width="0.75" />
<circle cx="275.00" cy="495.80" r="1.85" fill="#fff" stroke="#f9b233" stroke-width="0.75" />
<circle cx="279.60" cy="498.00" r="1.85" fill="#fff" stroke="#f9b233" stroke-width="0.75" />
<circle cx="284.50" cy="499.30" r="1.85" fill="#fff" stroke="#f9b233" stroke-width="0.75" />
<circle cx="279.60" cy="503.90" r="1.85" fill="#fff" stroke="#f9b233" stroke-width="0.75" />
<text x="206.80" y="556.90" font-size="8.7" text-anchor="middle" fill="#111" stroke="#111" stroke-width="0.2" >Off</text>
<text x="226.60" y="556.90" font-size="8.7" text-anchor="middle" fill="#111" stroke="#111" stroke-width="0.2" >On</text>
<text x="259.80" y="556.90" font-size="8.7" text-anchor="middle" fill="#111" stroke="#111" stroke-width="0.2" >Off</text>
<text x="279.60" y="556.90" font-size="8.7" text-anchor="middle" fill="#111" stroke="#111" stroke-width="0.2" >On</text>
<text x="195.80" y="456.30" font-size="8.7" text-anchor="start" fill="#111" stroke="#111" stroke-width="0.2" >HPT</text>
<line x1="226.90" y1="457.20" x2="287.80" y2="457.20" stroke="#2c2c2c" stroke-width="0.9" />
<text x="258.00" y="455.20" font-size="7.2" text-anchor="middle" fill="#111" stroke="#111" stroke-width="0.1" >ns</text>
<line x1="254.30" y1="467.40" x2="287.80" y2="467.40" stroke="#2c2c2c" stroke-width="0.9" />
<text x="270.20" y="465.60" font-size="7.2" text-anchor="middle" fill="#111" stroke="#111" stroke-width="0.1" >ns</text>
<g transform="translate(0 0)">
<path d="M353 184.2 C356 185 358.6 186.6 360.4 188.6 C362.4 191 361.6 193.4 359 194.1 C356.6 194.7 354 194.5 352.4 194.3 C350 194 348 193.4 346 192.8 C344.2 192.3 342.6 191.9 341 192 C339.2 192.1 337.6 192.6 336.2 193.2" fill="none" stroke="#b9766c" stroke-width="1.4" stroke-linecap="round"/>
<path d="M323.6 173.6 C324 172.2 325.4 171.6 326.6 172 C327.4 172.4 327.6 173.6 327.2 174.8 Z" fill="#423d3d"/>
<path d="M315.2 178.4 C316.4 177 318.2 175.9 319.8 175.2 C321.2 174.4 322.6 173.7 323.9 173.2 C326 172.8 328.4 174 330.4 175 C332.8 174.4 335.4 174.2 337.8 174.3 C340.4 174.3 343 174.6 345.2 175.2 C347.6 176 349.6 177.6 350.9 179.3 C352.4 180.6 353.6 182 354.1 183.4 C354.7 184.6 354.4 185.6 353.7 186.3 C353 187.4 352 188 350.9 188.4 L350.4 189.2 L343.2 189.4 C341.8 188.6 340.2 188 338.6 187.5 C336.4 188.3 334.2 188.8 332.1 188.7 C330.4 188.6 328.8 188 327.6 187.1 C327.2 186.8 326.8 186.6 326.4 186.3 C325.4 185 324.2 183.8 323.1 183.1 C321.4 182.6 319.8 182 318.2 181.4 C317 180.8 315.8 180.2 315.3 179.5 C315 179.1 315 178.7 315.2 178.4 Z" fill="#4a4545"/>
<circle cx="315.5" cy="178.8" r="0.7" fill="#c9928c"/>
<ellipse cx="328.1" cy="176.9" rx="1.5" ry="2.1" fill="#cf9c97" transform="rotate(20 328.1 176.9)"/>
<circle cx="321" cy="177.4" r="0.55" fill="#151212"/>
<path d="M327.6 186.6 C326.6 187.6 325 188.2 323.4 188.5 C322.4 188.7 321.4 189 321 189.5 C321.6 190.2 323.6 190.1 325.2 189.8 C327 189.4 328.6 188.6 329.2 187.6 Z" fill="#c48c85"/>
<path d="M343.3 189.2 C345 188.8 348.6 188.6 350.3 188.8 C350.6 189.6 350.4 190.2 349.8 190.6 C347.6 190.8 345 190.8 343.8 190.4 C343.2 190.1 343.1 189.6 343.3 189.2 Z" fill="#d6302c"/>
<line x1="315.6" y1="177.6" x2="314.1" y2="174.4" stroke="#c8c8c8" stroke-width="0.45"/>
<line x1="342.40" y1="193.40" x2="336.10" y2="216.30" stroke="#444" stroke-width="0.55" stroke-dasharray="1.6 0.5"/>
<line x1="351.30" y1="193.60" x2="356.50" y2="215.40" stroke="#444" stroke-width="0.55" stroke-dasharray="1.6 0.5"/>
<path d="M344.7 237.2 C343.6 233 343 228 342.8 223 C342.2 220 341.4 216 341.6 213.4 C342 212 342.8 213 343.2 215.4 C343 212 343 209 343.8 208.2 C344.6 207.8 344.9 210.6 345.2 213.6 C345.2 210.6 345.6 207.6 346.6 207.6 C347.4 207.8 347.3 211 347.4 214 C347.8 211.4 348.6 209 349.3 209.4 C349.9 210 349.5 213.4 349.1 216.2 C349.6 215 350.4 214 350.7 214.6 C351 215.6 350 218 349 220 C348.8 222.6 348.4 224.6 348 227 C347.6 231 346.4 235 344.7 237.2 Z" fill="#f1b7b6"/>
<path d="M345 216 L345.2 230 M346.8 216 L346.6 228" stroke="#f6cccb" stroke-width="0.5" fill="none"/>
<line x1="324.2" y1="234.4" x2="330.8" y2="229.8" stroke="#c9cbce" stroke-width="1.5"/>
<line x1="324.2" y1="234.4" x2="330.8" y2="229.8" stroke="#777b80" stroke-width="0.45"/>
<line x1="326.2" y1="232.1" x2="327.2" y2="233.5" stroke="#888" stroke-width="0.5"/>
<line x1="330.7" y1="229.9" x2="337.5" y2="225.2" stroke="#e8242a" stroke-width="1.7"/>
<line x1="337.5" y1="225.2" x2="339.0" y2="224.2" stroke="#70757b" stroke-width="1.2"/>
<line x1="339.0" y1="224.2" x2="346.5" y2="219.0" stroke="#2a2a2a" stroke-width="0.55"/>
<text x="340.70" y="247.00" font-size="8.9" text-anchor="middle" fill="#e2595b" stroke="#e2595b" stroke-width="0.2" >Formalin</text>
</g>
<g transform="translate(0 145.0)">
<path d="M353 184.2 C356 185 358.6 186.6 360.4 188.6 C362.4 191 361.6 193.4 359 194.1 C356.6 194.7 354 194.5 352.4 194.3 C350 194 348 193.4 346 192.8 C344.2 192.3 342.6 191.9 341 192 C339.2 192.1 337.6 192.6 336.2 193.2" fill="none" stroke="#b9766c" stroke-width="1.4" stroke-linecap="round"/>
<path d="M323.6 173.6 C324 172.2 325.4 171.6 326.6 172 C327.4 172.4 327.6 173.6 327.2 174.8 Z" fill="#423d3d"/>
<path d="M315.2 178.4 C316.4 177 318.2 175.9 319.8 175.2 C321.2 174.4 322.6 173.7 323.9 173.2 C326 172.8 328.4 174 330.4 175 C332.8 174.4 335.4 174.2 337.8 174.3 C340.4 174.3 343 174.6 345.2 175.2 C347.6 176 349.6 177.6 350.9 179.3 C352.4 180.6 353.6 182 354.1 183.4 C354.7 184.6 354.4 185.6 353.7 186.3 C353 187.4 352 188 350.9 188.4 L350.4 189.2 L343.2 189.4 C341.8 188.6 340.2 188 338.6 187.5 C336.4 188.3 334.2 188.8 332.1 188.7 C330.4 188.6 328.8 188 327.6 187.1 C327.2 186.8 326.8 186.6 326.4 186.3 C325.4 185 324.2 183.8 323.1 183.1 C321.4 182.6 319.8 182 318.2 181.4 C317 180.8 315.8 180.2 315.3 179.5 C315 179.1 315 178.7 315.2 178.4 Z" fill="#4a4545"/>
<circle cx="315.5" cy="178.8" r="0.7" fill="#c9928c"/>
<ellipse cx="328.1" cy="176.9" rx="1.5" ry="2.1" fill="#cf9c97" transform="rotate(20 328.1 176.9)"/>
<circle cx="321" cy="177.4" r="0.55" fill="#151212"/>
<path d="M327.6 186.6 C326.6 187.6 325 188.2 323.4 188.5 C322.4 188.7 321.4 189 321 189.5 C321.6 190.2 323.6 190.1 325.2 189.8 C327 189.4 328.6 188.6 329.2 187.6 Z" fill="#c48c85"/>
<path d="M343.3 189.2 C345 188.8 348.6 188.6 350.3 188.8 C350.6 189.6 350.4 190.2 349.8 190.6 C347.6 190.8 345 190.8 343.8 190.4 C343.2 190.1 343.1 189.6 343.3 189.2 Z" fill="#d6302c"/>
<line x1="315.6" y1="177.6" x2="314.1" y2="174.4" stroke="#c8c8c8" stroke-width="0.45"/>
<line x1="342.40" y1="193.40" x2="336.10" y2="216.30" stroke="#444" stroke-width="0.55" stroke-dasharray="1.6 0.5"/>
<line x1="351.30" y1="193.60" x2="356.50" y2="215.40" stroke="#444" stroke-width="0.55" stroke-dasharray="1.6 0.5"/>
<path d="M344.7 237.2 C343.6 233 343 228 342.8 223 C342.2 220 341.4 216 341.6 213.4 C342 212 342.8 213 343.2 215.4 C343 212 343 209 343.8 208.2 C344.6 207.8 344.9 210.6 345.2 213.6 C345.2 210.6 345.6 207.6 346.6 207.6 C347.4 207.8 347.3 211 347.4 214 C347.8 211.4 348.6 209 349.3 209.4 C349.9 210 349.5 213.4 349.1 216.2 C349.6 215 350.4 214 350.7 214.6 C351 215.6 350 218 349 220 C348.8 222.6 348.4 224.6 348 227 C347.6 231 346.4 235 344.7 237.2 Z" fill="#f1b7b6"/>
<path d="M345 216 L345.2 230 M346.8 216 L346.6 228" stroke="#f6cccb" stroke-width="0.5" fill="none"/>
<line x1="324.2" y1="234.4" x2="330.8" y2="229.8" stroke="#c9cbce" stroke-width="1.5"/>
<line x1="324.2" y1="234.4" x2="330.8" y2="229.8" stroke="#777b80" stroke-width="0.45"/>
<line x1="326.2" y1="232.1" x2="327.2" y2="233.5" stroke="#888" stroke-width="0.5"/>
<line x1="330.7" y1="229.9" x2="337.5" y2="225.2" stroke="#e8242a" stroke-width="1.7"/>
<line x1="337.5" y1="225.2" x2="339.0" y2="224.2" stroke="#70757b" stroke-width="1.2"/>
<line x1="339.0" y1="224.2" x2="346.5" y2="219.0" stroke="#2a2a2a" stroke-width="0.55"/>
<text x="340.70" y="247.00" font-size="8.9" text-anchor="middle" fill="#e2595b" stroke="#e2595b" stroke-width="0.2" >Formalin</text>
</g>
<g transform="translate(0 296.2)">
<path d="M353 184.2 C356 185 358.6 186.6 360.4 188.6 C362.4 191 361.6 193.4 359 194.1 C356.6 194.7 354 194.5 352.4 194.3 C350 194 348 193.4 346 192.8 C344.2 192.3 342.6 191.9 341 192 C339.2 192.1 337.6 192.6 336.2 193.2" fill="none" stroke="#b9766c" stroke-width="1.4" stroke-linecap="round"/>
<path d="M323.6 173.6 C324 172.2 325.4 171.6 326.6 172 C327.4 172.4 327.6 173.6 327.2 174.8 Z" fill="#423d3d"/>
<path d="M315.2 178.4 C316.4 177 318.2 175.9 319.8 175.2 C321.2 174.4 322.6 173.7 323.9 173.2 C326 172.8 328.4 174 330.4 175 C332.8 174.4 335.4 174.2 337.8 174.3 C340.4 174.3 343 174.6 345.2 175.2 C347.6 176 349.6 177.6 350.9 179.3 C352.4 180.6 353.6 182 354.1 183.4 C354.7 184.6 354.4 185.6 353.7 186.3 C353 187.4 352 188 350.9 188.4 L350.4 189.2 L343.2 189.4 C341.8 188.6 340.2 188 338.6 187.5 C336.4 188.3 334.2 188.8 332.1 188.7 C330.4 188.6 328.8 188 327.6 187.1 C327.2 186.8 326.8 186.6 326.4 186.3 C325.4 185 324.2 183.8 323.1 183.1 C321.4 182.6 319.8 182 318.2 181.4 C317 180.8 315.8 180.2 315.3 179.5 C315 179.1 315 178.7 315.2 178.4 Z" fill="#4a4545"/>
<circle cx="315.5" cy="178.8" r="0.7" fill="#c9928c"/>
<ellipse cx="328.1" cy="176.9" rx="1.5" ry="2.1" fill="#cf9c97" transform="rotate(20 328.1 176.9)"/>
<circle cx="321" cy="177.4" r="0.55" fill="#151212"/>
<path d="M327.6 186.6 C326.6 187.6 325 188.2 323.4 188.5 C322.4 188.7 321.4 189 321 189.5 C321.6 190.2 323.6 190.1 325.2 189.8 C327 189.4 328.6 188.6 329.2 187.6 Z" fill="#c48c85"/>
<path d="M343.3 189.2 C345 188.8 348.6 188.6 350.3 188.8 C350.6 189.6 350.4 190.2 349.8 190.6 C347.6 190.8 345 190.8 343.8 190.4 C343.2 190.1 343.1 189.6 343.3 189.2 Z" fill="#d6302c"/>
<line x1="315.6" y1="177.6" x2="314.1" y2="174.4" stroke="#c8c8c8" stroke-width="0.45"/>
<line x1="342.40" y1="193.40" x2="336.10" y2="216.30" stroke="#444" stroke-width="0.55" stroke-dasharray="1.6 0.5"/>
<line x1="351.30" y1="193.60" x2="356.50" y2="215.40" stroke="#444" stroke-width="0.55" stroke-dasharray="1.6 0.5"/>
<path d="M344.7 237.2 C343.6 233 343 228 342.8 223 C342.2 220 341.4 216 341.6 213.4 C342 212 342.8 213 343.2 215.4 C343 212 343 209 343.8 208.2 C344.6 207.8 344.9 210.6 345.2 213.6 C345.2 210.6 345.6 207.6 346.6 207.6 C347.4 207.8 347.3 211 347.4 214 C347.8 211.4 348.6 209 349.3 209.4 C349.9 210 349.5 213.4 349.1 216.2 C349.6 215 350.4 214 350.7 214.6 C351 215.6 350 218 349 220 C348.8 222.6 348.4 224.6 348 227 C347.6 231 346.4 235 344.7 237.2 Z" fill="#f1b7b6"/>
<path d="M345 216 L345.2 230 M346.8 216 L346.6 228" stroke="#f6cccb" stroke-width="0.5" fill="none"/>
<line x1="324.2" y1="234.4" x2="330.8" y2="229.8" stroke="#c9cbce" stroke-width="1.5"/>
<line x1="324.2" y1="234.4" x2="330.8" y2="229.8" stroke="#777b80" stroke-width="0.45"/>
<line x1="326.2" y1="232.1" x2="327.2" y2="233.5" stroke="#888" stroke-width="0.5"/>
<line x1="330.7" y1="229.9" x2="337.5" y2="225.2" stroke="#e8242a" stroke-width="1.7"/>
<line x1="337.5" y1="225.2" x2="339.0" y2="224.2" stroke="#70757b" stroke-width="1.2"/>
<line x1="339.0" y1="224.2" x2="346.5" y2="219.0" stroke="#2a2a2a" stroke-width="0.55"/>
<text x="340.70" y="247.00" font-size="8.9" text-anchor="middle" fill="#e2595b" stroke="#e2595b" stroke-width="0.2" >Formalin</text>
</g>
<line x1="409.30" y1="208.95" x2="409.30" y2="221.59" stroke="#e06464" stroke-width="0.7" />
<line x1="407.50" y1="208.95" x2="411.10" y2="208.95" stroke="#e06464" stroke-width="0.7" />
<line x1="407.50" y1="221.59" x2="411.10" y2="221.59" stroke="#e06464" stroke-width="0.7" />
<line x1="423.55" y1="240.54" x2="423.55" y2="242.48" stroke="#e06464" stroke-width="0.7" />
<line x1="421.75" y1="240.54" x2="425.35" y2="240.54" stroke="#e06464" stroke-width="0.7" />
<line x1="421.75" y1="242.48" x2="425.35" y2="242.48" stroke="#e06464" stroke-width="0.7" />
<line x1="437.80" y1="241.51" x2="437.80" y2="243.46" stroke="#e06464" stroke-width="0.7" />
<line x1="436.00" y1="241.51" x2="439.60" y2="241.51" stroke="#e06464" stroke-width="0.7" />
<line x1="436.00" y1="243.46" x2="439.60" y2="243.46" stroke="#e06464" stroke-width="0.7" />
<line x1="452.05" y1="234.47" x2="452.05" y2="238.35" stroke="#e06464" stroke-width="0.7" />
<line x1="450.25" y1="234.47" x2="453.85" y2="234.47" stroke="#e06464" stroke-width="0.7" />
<line x1="450.25" y1="238.35" x2="453.85" y2="238.35" stroke="#e06464" stroke-width="0.7" />
<line x1="466.30" y1="231.31" x2="466.30" y2="236.17" stroke="#e06464" stroke-width="0.7" />
<line x1="464.50" y1="231.31" x2="468.10" y2="231.31" stroke="#e06464" stroke-width="0.7" />
<line x1="464.50" y1="236.17" x2="468.10" y2="236.17" stroke="#e06464" stroke-width="0.7" />
<line x1="480.55" y1="233.25" x2="480.55" y2="237.14" stroke="#e06464" stroke-width="0.7" />
<line x1="478.75" y1="233.25" x2="482.35" y2="233.25" stroke="#e06464" stroke-width="0.7" />
<line x1="478.75" y1="237.14" x2="482.35" y2="237.14" stroke="#e06464" stroke-width="0.7" />
<line x1="494.80" y1="228.39" x2="494.80" y2="235.19" stroke="#e06464" stroke-width="0.7" />
<line x1="493.00" y1="228.39" x2="496.60" y2="228.39" stroke="#e06464" stroke-width="0.7" />
<line x1="493.00" y1="235.19" x2="496.60" y2="235.19" stroke="#e06464" stroke-width="0.7" />
<line x1="509.05" y1="227.42" x2="509.05" y2="237.14" stroke="#e06464" stroke-width="0.7" />
<line x1="507.25" y1="227.42" x2="510.85" y2="227.42" stroke="#e06464" stroke-width="0.7" />
<line x1="507.25" y1="237.14" x2="510.85" y2="237.14" stroke="#e06464" stroke-width="0.7" />
<line x1="523.30" y1="237.62" x2="523.30" y2="241.51" stroke="#e06464" stroke-width="0.7" />
<line x1="521.50" y1="237.62" x2="525.10" y2="237.62" stroke="#e06464" stroke-width="0.7" />
<line x1="521.50" y1="241.51" x2="525.10" y2="241.51" stroke="#e06464" stroke-width="0.7" />
<path d="M409.30 215.27 L423.55 241.51 L437.80 242.48 L452.05 236.41 L466.30 233.74 L480.55 235.19 L494.80 231.79 L509.05 232.28 L523.30 239.57" fill="none" stroke="#e06464" stroke-width="1.45" stroke-linejoin="round"/>
<circle cx="409.30" cy="215.27" r="1.9" fill="#fff" stroke="#e06464" stroke-width="0.75" />
<circle cx="423.55" cy="241.51" r="1.9" fill="#fff" stroke="#e06464" stroke-width="0.75" />
<circle cx="437.80" cy="242.48" r="1.9" fill="#fff" stroke="#e06464" stroke-width="0.75" />
<circle cx="452.05" cy="236.41" r="1.9" fill="#fff" stroke="#e06464" stroke-width="0.75" />
<circle cx="466.30" cy="233.74" r="1.9" fill="#fff" stroke="#e06464" stroke-width="0.75" />
<circle cx="480.55" cy="235.19" r="1.9" fill="#fff" stroke="#e06464" stroke-width="0.75" />
<circle cx="494.80" cy="231.79" r="1.9" fill="#fff" stroke="#e06464" stroke-width="0.75" />
<circle cx="509.05" cy="232.28" r="1.9" fill="#fff" stroke="#e06464" stroke-width="0.75" />
<circle cx="523.30" cy="239.57" r="1.9" fill="#fff" stroke="#e06464" stroke-width="0.75" />
<line x1="409.30" y1="189.51" x2="409.30" y2="200.20" stroke="#777" stroke-width="0.7" />
<line x1="407.50" y1="189.51" x2="411.10" y2="189.51" stroke="#777" stroke-width="0.7" />
<line x1="407.50" y1="200.20" x2="411.10" y2="200.20" stroke="#777" stroke-width="0.7" />
<line x1="423.55" y1="240.54" x2="423.55" y2="242.48" stroke="#777" stroke-width="0.7" />
<line x1="421.75" y1="240.54" x2="425.35" y2="240.54" stroke="#777" stroke-width="0.7" />
<line x1="421.75" y1="242.48" x2="425.35" y2="242.48" stroke="#777" stroke-width="0.7" />
<line x1="437.80" y1="242.00" x2="437.80" y2="243.94" stroke="#777" stroke-width="0.7" />
<line x1="436.00" y1="242.00" x2="439.60" y2="242.00" stroke="#777" stroke-width="0.7" />
<line x1="436.00" y1="243.94" x2="439.60" y2="243.94" stroke="#777" stroke-width="0.7" />
<line x1="452.05" y1="221.10" x2="452.05" y2="233.74" stroke="#777" stroke-width="0.7" />
<line x1="450.25" y1="221.10" x2="453.85" y2="221.10" stroke="#777" stroke-width="0.7" />
<line x1="450.25" y1="233.74" x2="453.85" y2="233.74" stroke="#777" stroke-width="0.7" />
<line x1="466.30" y1="214.78" x2="466.30" y2="226.45" stroke="#777" stroke-width="0.7" />
<line x1="464.50" y1="214.78" x2="468.10" y2="214.78" stroke="#777" stroke-width="0.7" />
<line x1="464.50" y1="226.45" x2="468.10" y2="226.45" stroke="#777" stroke-width="0.7" />
<line x1="480.55" y1="214.78" x2="480.55" y2="231.31" stroke="#777" stroke-width="0.7" />
<line x1="478.75" y1="214.78" x2="482.35" y2="214.78" stroke="#777" stroke-width="0.7" />
<line x1="478.75" y1="231.31" x2="482.35" y2="231.31" stroke="#777" stroke-width="0.7" />
<line x1="494.80" y1="224.02" x2="494.80" y2="232.76" stroke="#777" stroke-width="0.7" />
<line x1="493.00" y1="224.02" x2="496.60" y2="224.02" stroke="#777" stroke-width="0.7" />
<line x1="493.00" y1="232.76" x2="496.60" y2="232.76" stroke="#777" stroke-width="0.7" />
<line x1="509.05" y1="228.39" x2="509.05" y2="236.17" stroke="#777" stroke-width="0.7" />
<line x1="507.25" y1="228.39" x2="510.85" y2="228.39" stroke="#777" stroke-width="0.7" />
<line x1="507.25" y1="236.17" x2="510.85" y2="236.17" stroke="#777" stroke-width="0.7" />
<line x1="523.30" y1="239.08" x2="523.30" y2="242.00" stroke="#777" stroke-width="0.7" />
<line x1="521.50" y1="239.08" x2="525.10" y2="239.08" stroke="#777" stroke-width="0.7" />
<line x1="521.50" y1="242.00" x2="525.10" y2="242.00" stroke="#777" stroke-width="0.7" />
<path d="M409.30 194.86 L423.55 241.51 L437.80 242.97 L452.05 227.42 L466.30 220.61 L480.55 223.04 L494.80 228.39 L509.05 232.28 L523.30 240.54" fill="none" stroke="#777" stroke-width="1.45" stroke-linejoin="round"/>
<circle cx="409.30" cy="194.86" r="1.9" fill="#fff" stroke="#777" stroke-width="0.75" />
<circle cx="423.55" cy="241.51" r="1.9" fill="#fff" stroke="#777" stroke-width="0.75" />
<circle cx="437.80" cy="242.97" r="1.9" fill="#fff" stroke="#777" stroke-width="0.75" />
<circle cx="452.05" cy="227.42" r="1.9" fill="#fff" stroke="#777" stroke-width="0.75" />
<circle cx="466.30" cy="220.61" r="1.9" fill="#fff" stroke="#777" stroke-width="0.75" />
<circle cx="480.55" cy="223.04" r="1.9" fill="#fff" stroke="#777" stroke-width="0.75" />
<circle cx="494.80" cy="228.39" r="1.9" fill="#fff" stroke="#777" stroke-width="0.75" />
<circle cx="509.05" cy="232.28" r="1.9" fill="#fff" stroke="#777" stroke-width="0.75" />
<circle cx="523.30" cy="240.54" r="1.9" fill="#fff" stroke="#777" stroke-width="0.75" />
<line x1="399.15" y1="245.40" x2="533.30" y2="245.40" stroke="#3c3c3c" stroke-width="0.9" />
<line x1="399.60" y1="172.05" x2="399.60" y2="245.85" stroke="#3c3c3c" stroke-width="0.9" />
<line x1="394.40" y1="245.40" x2="399.60" y2="245.40" stroke="#3c3c3c" stroke-width="0.9" />
<text x="393.00" y="248.50" font-size="8.7" text-anchor="end" fill="#111" stroke="#111" stroke-width="0.2" >0</text>
<line x1="394.40" y1="221.10" x2="399.60" y2="221.10" stroke="#3c3c3c" stroke-width="0.9" />
<text x="393.00" y="224.20" font-size="8.7" text-anchor="end" fill="#111" stroke="#111" stroke-width="0.2" >50</text>
<line x1="394.40" y1="196.80" x2="399.60" y2="196.80" stroke="#3c3c3c" stroke-width="0.9" />
<text x="393.00" y="199.90" font-size="8.7" text-anchor="end" fill="#111" stroke="#111" stroke-width="0.2" >100</text>
<line x1="394.40" y1="172.50" x2="399.60" y2="172.50" stroke="#3c3c3c" stroke-width="0.9" />
<text x="393.00" y="175.60" font-size="8.7" text-anchor="end" fill="#111" stroke="#111" stroke-width="0.2" >150</text>
<text transform="translate(375.40 208.95) rotate(-90)" text-anchor="middle" font-size="8.7" fill="#111" stroke="#111" stroke-width="0.2">Licking duration (s)</text>
<line x1="409.30" y1="245.40" x2="409.30" y2="250.20" stroke="#3c3c3c" stroke-width="0.9" />
<text x="409.30" y="259.30" font-size="8.7" text-anchor="middle" fill="#111" stroke="#111" stroke-width="0.2" >5</text>
<line x1="423.55" y1="245.40" x2="423.55" y2="250.20" stroke="#3c3c3c" stroke-width="0.9" />
<text x="423.55" y="259.30" font-size="8.7" text-anchor="middle" fill="#111" stroke="#111" stroke-width="0.2" >10</text>
<line x1="437.80" y1="245.40" x2="437.80" y2="250.20" stroke="#3c3c3c" stroke-width="0.9" />
<text x="437.80" y="259.30" font-size="8.7" text-anchor="middle" fill="#111" stroke="#111" stroke-width="0.2" >15</text>
<line x1="452.05" y1="245.40" x2="452.05" y2="250.20" stroke="#3c3c3c" stroke-width="0.9" />
<text x="452.05" y="259.30" font-size="8.7" text-anchor="middle" fill="#111" stroke="#111" stroke-width="0.2" >20</text>
<line x1="466.30" y1="245.40" x2="466.30" y2="250.20" stroke="#3c3c3c" stroke-width="0.9" />
<text x="466.30" y="259.30" font-size="8.7" text-anchor="middle" fill="#111" stroke="#111" stroke-width="0.2" >25</text>
<line x1="480.55" y1="245.40" x2="480.55" y2="250.20" stroke="#3c3c3c" stroke-width="0.9" />
<text x="480.55" y="259.30" font-size="8.7" text-anchor="middle" fill="#111" stroke="#111" stroke-width="0.2" >30</text>
<line x1="494.80" y1="245.40" x2="494.80" y2="250.20" stroke="#3c3c3c" stroke-width="0.9" />
<text x="494.80" y="259.30" font-size="8.7" text-anchor="middle" fill="#111" stroke="#111" stroke-width="0.2" >35</text>
<line x1="509.05" y1="245.40" x2="509.05" y2="250.20" stroke="#3c3c3c" stroke-width="0.9" />
<text x="509.05" y="259.30" font-size="8.7" text-anchor="middle" fill="#111" stroke="#111" stroke-width="0.2" >40</text>
<line x1="523.30" y1="245.40" x2="523.30" y2="250.20" stroke="#3c3c3c" stroke-width="0.9" />
<text x="523.30" y="259.30" font-size="8.7" text-anchor="middle" fill="#111" stroke="#111" stroke-width="0.2" >45</text>
<text x="466.75" y="268.30" font-size="8.7" text-anchor="middle" fill="#111" stroke="#111" stroke-width="0.2" >Time (min)</text>
<line x1="415.00" y1="175.30" x2="428.70" y2="175.30" stroke="#777" stroke-width="1.1" />
<circle cx="421.80" cy="175.30" r="1.9" fill="#fff" stroke="#777" stroke-width="0.75" />
<text x="436.80" y="178.50" font-size="8.9" text-anchor="start" fill="#111" stroke="#111" stroke-width="0.2" >EYFP</text>
<line x1="476.80" y1="175.30" x2="490.50" y2="175.30" stroke="#e06464" stroke-width="1.1" />
<circle cx="483.60" cy="175.30" r="1.9" fill="#fff" stroke="#e06464" stroke-width="0.75" />
<text x="497.50" y="178.50" font-size="8.9" text-anchor="start" fill="#111" stroke="#111" stroke-width="0.2" >ChR2</text>
<line x1="409.30" y1="333.24" x2="409.30" y2="346.09" stroke="#f3a8a1" stroke-width="0.7" />
<line x1="407.50" y1="333.24" x2="411.10" y2="333.24" stroke="#f3a8a1" stroke-width="0.7" />
<line x1="407.50" y1="346.09" x2="411.10" y2="346.09" stroke="#f3a8a1" stroke-width="0.7" />
<line x1="423.55" y1="388.08" x2="423.55" y2="391.04" stroke="#f3a8a1" stroke-width="0.7" />
<line x1="421.75" y1="388.08" x2="425.35" y2="388.08" stroke="#f3a8a1" stroke-width="0.7" />
<line x1="421.75" y1="391.04" x2="425.35" y2="391.04" stroke="#f3a8a1" stroke-width="0.7" />
<line x1="437.80" y1="393.51" x2="437.80" y2="394.50" stroke="#f3a8a1" stroke-width="0.7" />
<line x1="436.00" y1="393.51" x2="439.60" y2="393.51" stroke="#f3a8a1" stroke-width="0.7" />
<line x1="436.00" y1="394.50" x2="439.60" y2="394.50" stroke="#f3a8a1" stroke-width="0.7" />
<line x1="452.05" y1="385.11" x2="452.05" y2="389.07" stroke="#f3a8a1" stroke-width="0.7" />
<line x1="450.25" y1="385.11" x2="453.85" y2="385.11" stroke="#f3a8a1" stroke-width="0.7" />
<line x1="450.25" y1="389.07" x2="453.85" y2="389.07" stroke="#f3a8a1" stroke-width="0.7" />
<line x1="466.30" y1="371.28" x2="466.30" y2="381.16" stroke="#f3a8a1" stroke-width="0.7" />
<line x1="464.50" y1="371.28" x2="468.10" y2="371.28" stroke="#f3a8a1" stroke-width="0.7" />
<line x1="464.50" y1="381.16" x2="468.10" y2="381.16" stroke="#f3a8a1" stroke-width="0.7" />
<line x1="480.55" y1="372.52" x2="480.55" y2="383.39" stroke="#f3a8a1" stroke-width="0.7" />
<line x1="478.75" y1="372.52" x2="482.35" y2="372.52" stroke="#f3a8a1" stroke-width="0.7" />
<line x1="478.75" y1="383.39" x2="482.35" y2="383.39" stroke="#f3a8a1" stroke-width="0.7" />
<line x1="494.80" y1="379.68" x2="494.80" y2="387.58" stroke="#f3a8a1" stroke-width="0.7" />
<line x1="493.00" y1="379.68" x2="496.60" y2="379.68" stroke="#f3a8a1" stroke-width="0.7" />
<line x1="493.00" y1="387.58" x2="496.60" y2="387.58" stroke="#f3a8a1" stroke-width="0.7" />
<line x1="509.05" y1="378.20" x2="509.05" y2="388.08" stroke="#f3a8a1" stroke-width="0.7" />
<line x1="507.25" y1="378.20" x2="510.85" y2="378.20" stroke="#f3a8a1" stroke-width="0.7" />
<line x1="507.25" y1="388.08" x2="510.85" y2="388.08" stroke="#f3a8a1" stroke-width="0.7" />
<line x1="523.30" y1="388.08" x2="523.30" y2="391.04" stroke="#f3a8a1" stroke-width="0.7" />
<line x1="521.50" y1="388.08" x2="525.10" y2="388.08" stroke="#f3a8a1" stroke-width="0.7" />
<line x1="521.50" y1="391.04" x2="525.10" y2="391.04" stroke="#f3a8a1" stroke-width="0.7" />
<path d="M409.30 339.67 L423.55 389.56 L437.80 394.01 L452.05 387.09 L466.30 376.22 L480.55 377.95 L494.80 383.63 L509.05 383.14 L523.30 389.56" fill="none" stroke="#f3a8a1" stroke-width="1.45" stroke-linejoin="round"/>
<circle cx="409.30" cy="339.67" r="1.9" fill="#fff" stroke="#f3a8a1" stroke-width="0.75" />
<circle cx="423.55" cy="389.56" r="1.9" fill="#fff" stroke="#f3a8a1" stroke-width="0.75" />
<circle cx="437.80" cy="394.01" r="1.9" fill="#fff" stroke="#f3a8a1" stroke-width="0.75" />
<circle cx="452.05" cy="387.09" r="1.9" fill="#fff" stroke="#f3a8a1" stroke-width="0.75" />
<circle cx="466.30" cy="376.22" r="1.9" fill="#fff" stroke="#f3a8a1" stroke-width="0.75" />
<circle cx="480.55" cy="377.95" r="1.9" fill="#fff" stroke="#f3a8a1" stroke-width="0.75" />
<circle cx="494.80" cy="383.63" r="1.9" fill="#fff" stroke="#f3a8a1" stroke-width="0.75" />
<circle cx="509.05" cy="383.14" r="1.9" fill="#fff" stroke="#f3a8a1" stroke-width="0.75" />
<circle cx="523.30" cy="389.56" r="1.9" fill="#fff" stroke="#f3a8a1" stroke-width="0.75" />
<line x1="409.30" y1="340.65" x2="409.30" y2="352.51" stroke="#777" stroke-width="0.7" />
<line x1="407.50" y1="340.65" x2="411.10" y2="340.65" stroke="#777" stroke-width="0.7" />
<line x1="407.50" y1="352.51" x2="411.10" y2="352.51" stroke="#777" stroke-width="0.7" />
<line x1="423.55" y1="386.35" x2="423.55" y2="390.30" stroke="#777" stroke-width="0.7" />
<line x1="421.75" y1="386.35" x2="425.35" y2="386.35" stroke="#777" stroke-width="0.7" />
<line x1="421.75" y1="390.30" x2="425.35" y2="390.30" stroke="#777" stroke-width="0.7" />
<line x1="437.80" y1="393.51" x2="437.80" y2="394.50" stroke="#777" stroke-width="0.7" />
<line x1="436.00" y1="393.51" x2="439.60" y2="393.51" stroke="#777" stroke-width="0.7" />
<line x1="436.00" y1="394.50" x2="439.60" y2="394.50" stroke="#777" stroke-width="0.7" />
<line x1="452.05" y1="383.14" x2="452.05" y2="388.08" stroke="#777" stroke-width="0.7" />
<line x1="450.25" y1="383.14" x2="453.85" y2="383.14" stroke="#777" stroke-width="0.7" />
<line x1="450.25" y1="388.08" x2="453.85" y2="388.08" stroke="#777" stroke-width="0.7" />
<line x1="466.30" y1="364.86" x2="466.30" y2="378.69" stroke="#777" stroke-width="0.7" />
<line x1="464.50" y1="364.86" x2="468.10" y2="364.86" stroke="#777" stroke-width="0.7" />
<line x1="464.50" y1="378.69" x2="468.10" y2="378.69" stroke="#777" stroke-width="0.7" />
<line x1="480.55" y1="363.87" x2="480.55" y2="379.68" stroke="#777" stroke-width="0.7" />
<line x1="478.75" y1="363.87" x2="482.35" y2="363.87" stroke="#777" stroke-width="0.7" />
<line x1="478.75" y1="379.68" x2="482.35" y2="379.68" stroke="#777" stroke-width="0.7" />
<line x1="494.80" y1="381.66" x2="494.80" y2="386.60" stroke="#777" stroke-width="0.7" />
<line x1="493.00" y1="381.66" x2="496.60" y2="381.66" stroke="#777" stroke-width="0.7" />
<line x1="493.00" y1="386.60" x2="496.60" y2="386.60" stroke="#777" stroke-width="0.7" />
<line x1="509.05" y1="381.66" x2="509.05" y2="387.58" stroke="#777" stroke-width="0.7" />
<line x1="507.25" y1="381.66" x2="510.85" y2="381.66" stroke="#777" stroke-width="0.7" />
<line x1="507.25" y1="387.58" x2="510.85" y2="387.58" stroke="#777" stroke-width="0.7" />
<line x1="523.30" y1="390.05" x2="523.30" y2="392.03" stroke="#777" stroke-width="0.7" />
<line x1="521.50" y1="390.05" x2="525.10" y2="390.05" stroke="#777" stroke-width="0.7" />
<line x1="521.50" y1="392.03" x2="525.10" y2="392.03" stroke="#777" stroke-width="0.7" />
<path d="M409.30 346.58 L423.55 388.32 L437.80 394.01 L452.05 385.61 L466.30 371.78 L480.55 371.78 L494.80 384.13 L509.05 384.62 L523.30 391.04" fill="none" stroke="#777" stroke-width="1.45" stroke-linejoin="round"/>
<circle cx="409.30" cy="346.58" r="1.9" fill="#fff" stroke="#777" stroke-width="0.75" />
<circle cx="423.55" cy="388.32" r="1.9" fill="#fff" stroke="#777" stroke-width="0.75" />
<circle cx="437.80" cy="394.01" r="1.9" fill="#fff" stroke="#777" stroke-width="0.75" />
<circle cx="452.05" cy="385.61" r="1.9" fill="#fff" stroke="#777" stroke-width="0.75" />
<circle cx="466.30" cy="371.78" r="1.9" fill="#fff" stroke="#777" stroke-width="0.75" />
<circle cx="480.55" cy="371.78" r="1.9" fill="#fff" stroke="#777" stroke-width="0.75" />
<circle cx="494.80" cy="384.13" r="1.9" fill="#fff" stroke="#777" stroke-width="0.75" />
<circle cx="509.05" cy="384.62" r="1.9" fill="#fff" stroke="#777" stroke-width="0.75" />
<circle cx="523.30" cy="391.04" r="1.9" fill="#fff" stroke="#777" stroke-width="0.75" />
<line x1="399.15" y1="394.50" x2="535.30" y2="394.50" stroke="#3c3c3c" stroke-width="0.9" />
<line x1="399.60" y1="319.95" x2="399.60" y2="394.95" stroke="#3c3c3c" stroke-width="0.9" />
<line x1="394.40" y1="394.50" x2="399.60" y2="394.50" stroke="#3c3c3c" stroke-width="0.9" />
<text x="393.00" y="397.60" font-size="8.7" text-anchor="end" fill="#111" stroke="#111" stroke-width="0.2" >0</text>
<line x1="394.40" y1="369.80" x2="399.60" y2="369.80" stroke="#3c3c3c" stroke-width="0.9" />
<text x="393.00" y="372.90" font-size="8.7" text-anchor="end" fill="#111" stroke="#111" stroke-width="0.2" >50</text>
<line x1="394.40" y1="345.10" x2="399.60" y2="345.10" stroke="#3c3c3c" stroke-width="0.9" />
<text x="393.00" y="348.20" font-size="8.7" text-anchor="end" fill="#111" stroke="#111" stroke-width="0.2" >100</text>
<line x1="394.40" y1="320.40" x2="399.60" y2="320.40" stroke="#3c3c3c" stroke-width="0.9" />
<text x="393.00" y="323.50" font-size="8.7" text-anchor="end" fill="#111" stroke="#111" stroke-width="0.2" >150</text>
<text transform="translate(375.40 357.45) rotate(-90)" text-anchor="middle" font-size="8.7" fill="#111" stroke="#111" stroke-width="0.2">Licking duration (s)</text>
<line x1="409.30" y1="394.50" x2="409.30" y2="399.30" stroke="#3c3c3c" stroke-width="0.9" />
<text x="409.30" y="408.20" font-size="8.7" text-anchor="middle" fill="#111" stroke="#111" stroke-width="0.2" >5</text>
<line x1="423.55" y1="394.50" x2="423.55" y2="399.30" stroke="#3c3c3c" stroke-width="0.9" />
<text x="423.55" y="408.20" font-size="8.7" text-anchor="middle" fill="#111" stroke="#111" stroke-width="0.2" >10</text>
<line x1="437.80" y1="394.50" x2="437.80" y2="399.30" stroke="#3c3c3c" stroke-width="0.9" />
<text x="437.80" y="408.20" font-size="8.7" text-anchor="middle" fill="#111" stroke="#111" stroke-width="0.2" >15</text>
<line x1="452.05" y1="394.50" x2="452.05" y2="399.30" stroke="#3c3c3c" stroke-width="0.9" />
<text x="452.05" y="408.20" font-size="8.7" text-anchor="middle" fill="#111" stroke="#111" stroke-width="0.2" >20</text>
<line x1="466.30" y1="394.50" x2="466.30" y2="399.30" stroke="#3c3c3c" stroke-width="0.9" />
<text x="466.30" y="408.20" font-size="8.7" text-anchor="middle" fill="#111" stroke="#111" stroke-width="0.2" >25</text>
<line x1="480.55" y1="394.50" x2="480.55" y2="399.30" stroke="#3c3c3c" stroke-width="0.9" />
<text x="480.55" y="408.20" font-size="8.7" text-anchor="middle" fill="#111" stroke="#111" stroke-width="0.2" >30</text>
<line x1="494.80" y1="394.50" x2="494.80" y2="399.30" stroke="#3c3c3c" stroke-width="0.9" />
<text x="494.80" y="408.20" font-size="8.7" text-anchor="middle" fill="#111" stroke="#111" stroke-width="0.2" >35</text>
<line x1="509.05" y1="394.50" x2="509.05" y2="399.30" stroke="#3c3c3c" stroke-width="0.9" />
<text x="509.05" y="408.20" font-size="8.7" text-anchor="middle" fill="#111" stroke="#111" stroke-width="0.2" >40</text>
<line x1="523.30" y1="394.50" x2="523.30" y2="399.30" stroke="#3c3c3c" stroke-width="0.9" />
<text x="523.30" y="408.20" font-size="8.7" text-anchor="middle" fill="#111" stroke="#111" stroke-width="0.2" >45</text>
<text x="467.75" y="417.00" font-size="8.7" text-anchor="middle" fill="#111" stroke="#111" stroke-width="0.2" >Time (min)</text>
<line x1="415.00" y1="323.60" x2="428.70" y2="323.60" stroke="#777" stroke-width="1.1" />
<circle cx="421.80" cy="323.60" r="1.9" fill="#fff" stroke="#777" stroke-width="0.75" />
<text x="436.80" y="326.80" font-size="8.9" text-anchor="start" fill="#111" stroke="#111" stroke-width="0.2" >EYFP</text>
<line x1="476.80" y1="323.60" x2="490.50" y2="323.60" stroke="#f3a8a1" stroke-width="1.1" />
<circle cx="483.60" cy="323.60" r="1.9" fill="#fff" stroke="#f3a8a1" stroke-width="0.75" />
<text x="497.50" y="326.80" font-size="8.9" text-anchor="start" fill="#111" stroke="#111" stroke-width="0.2" >ChR2</text>
<line x1="409.30" y1="498.30" x2="409.30" y2="506.11" stroke="#f9b233" stroke-width="0.7" />
<line x1="407.50" y1="498.30" x2="411.10" y2="498.30" stroke="#f9b233" stroke-width="0.7" />
<line x1="407.50" y1="506.11" x2="411.10" y2="506.11" stroke="#f9b233" stroke-width="0.7" />
<line x1="423.55" y1="536.12" x2="423.55" y2="539.05" stroke="#f9b233" stroke-width="0.7" />
<line x1="421.75" y1="536.12" x2="425.35" y2="536.12" stroke="#f9b233" stroke-width="0.7" />
<line x1="421.75" y1="539.05" x2="425.35" y2="539.05" stroke="#f9b233" stroke-width="0.7" />
<line x1="437.80" y1="542.22" x2="437.80" y2="543.20" stroke="#f9b233" stroke-width="0.7" />
<line x1="436.00" y1="542.22" x2="439.60" y2="542.22" stroke="#f9b233" stroke-width="0.7" />
<line x1="436.00" y1="543.20" x2="439.60" y2="543.20" stroke="#f9b233" stroke-width="0.7" />
<line x1="452.05" y1="538.03" x2="452.05" y2="540.96" stroke="#f9b233" stroke-width="0.7" />
<line x1="450.25" y1="538.03" x2="453.85" y2="538.03" stroke="#f9b233" stroke-width="0.7" />
<line x1="450.25" y1="540.96" x2="453.85" y2="540.96" stroke="#f9b233" stroke-width="0.7" />
<line x1="466.30" y1="529.05" x2="466.30" y2="536.86" stroke="#f9b233" stroke-width="0.7" />
<line x1="464.50" y1="529.05" x2="468.10" y2="529.05" stroke="#f9b233" stroke-width="0.7" />
<line x1="464.50" y1="536.86" x2="468.10" y2="536.86" stroke="#f9b233" stroke-width="0.7" />
<line x1="480.55" y1="533.05" x2="480.55" y2="535.98" stroke="#f9b233" stroke-width="0.7" />
<line x1="478.75" y1="533.05" x2="482.35" y2="533.05" stroke="#f9b233" stroke-width="0.7" />
<line x1="478.75" y1="535.98" x2="482.35" y2="535.98" stroke="#f9b233" stroke-width="0.7" />
<line x1="494.80" y1="529.05" x2="494.80" y2="537.83" stroke="#f9b233" stroke-width="0.7" />
<line x1="493.00" y1="529.05" x2="496.60" y2="529.05" stroke="#f9b233" stroke-width="0.7" />
<line x1="493.00" y1="537.83" x2="496.60" y2="537.83" stroke="#f9b233" stroke-width="0.7" />
<line x1="509.05" y1="531.98" x2="509.05" y2="539.78" stroke="#f9b233" stroke-width="0.7" />
<line x1="507.25" y1="531.98" x2="510.85" y2="531.98" stroke="#f9b233" stroke-width="0.7" />
<line x1="507.25" y1="539.78" x2="510.85" y2="539.78" stroke="#f9b233" stroke-width="0.7" />
<line x1="523.30" y1="538.61" x2="523.30" y2="541.54" stroke="#f9b233" stroke-width="0.7" />
<line x1="521.50" y1="538.61" x2="525.10" y2="538.61" stroke="#f9b233" stroke-width="0.7" />
<line x1="521.50" y1="541.54" x2="525.10" y2="541.54" stroke="#f9b233" stroke-width="0.7" />
<path d="M409.30 502.21 L423.55 537.59 L437.80 542.71 L452.05 539.49 L466.30 532.95 L480.55 534.51 L494.80 533.44 L509.05 535.88 L523.30 540.08" fill="none" stroke="#f9b233" stroke-width="1.45" stroke-linejoin="round"/>
<circle cx="409.30" cy="502.21" r="1.9" fill="#fff" stroke="#f9b233" stroke-width="0.75" />
<circle cx="423.55" cy="537.59" r="1.9" fill="#fff" stroke="#f9b233" stroke-width="0.75" />
<circle cx="437.80" cy="542.71" r="1.9" fill="#fff" stroke="#f9b233" stroke-width="0.75" />
<circle cx="452.05" cy="539.49" r="1.9" fill="#fff" stroke="#f9b233" stroke-width="0.75" />
<circle cx="466.30" cy="532.95" r="1.9" fill="#fff" stroke="#f9b233" stroke-width="0.75" />
<circle cx="480.55" cy="534.51" r="1.9" fill="#fff" stroke="#f9b233" stroke-width="0.75" />
<circle cx="494.80" cy="533.44" r="1.9" fill="#fff" stroke="#f9b233" stroke-width="0.75" />
<circle cx="509.05" cy="535.88" r="1.9" fill="#fff" stroke="#f9b233" stroke-width="0.75" />
<circle cx="523.30" cy="540.08" r="1.9" fill="#fff" stroke="#f9b233" stroke-width="0.75" />
<line x1="409.30" y1="487.57" x2="409.30" y2="492.45" stroke="#777" stroke-width="0.7" />
<line x1="407.50" y1="487.57" x2="411.10" y2="487.57" stroke="#777" stroke-width="0.7" />
<line x1="407.50" y1="492.45" x2="411.10" y2="492.45" stroke="#777" stroke-width="0.7" />
<line x1="423.55" y1="530.51" x2="423.55" y2="535.39" stroke="#777" stroke-width="0.7" />
<line x1="421.75" y1="530.51" x2="425.35" y2="530.51" stroke="#777" stroke-width="0.7" />
<line x1="421.75" y1="535.39" x2="425.35" y2="535.39" stroke="#777" stroke-width="0.7" />
<line x1="437.80" y1="542.22" x2="437.80" y2="543.20" stroke="#777" stroke-width="0.7" />
<line x1="436.00" y1="542.22" x2="439.60" y2="542.22" stroke="#777" stroke-width="0.7" />
<line x1="436.00" y1="543.20" x2="439.60" y2="543.20" stroke="#777" stroke-width="0.7" />
<line x1="452.05" y1="534.61" x2="452.05" y2="538.52" stroke="#777" stroke-width="0.7" />
<line x1="450.25" y1="534.61" x2="453.85" y2="534.61" stroke="#777" stroke-width="0.7" />
<line x1="450.25" y1="538.52" x2="453.85" y2="538.52" stroke="#777" stroke-width="0.7" />
<line x1="466.30" y1="520.75" x2="466.30" y2="528.56" stroke="#777" stroke-width="0.7" />
<line x1="464.50" y1="520.75" x2="468.10" y2="520.75" stroke="#777" stroke-width="0.7" />
<line x1="464.50" y1="528.56" x2="468.10" y2="528.56" stroke="#777" stroke-width="0.7" />
<line x1="480.55" y1="511.48" x2="480.55" y2="524.17" stroke="#777" stroke-width="0.7" />
<line x1="478.75" y1="511.48" x2="482.35" y2="511.48" stroke="#777" stroke-width="0.7" />
<line x1="478.75" y1="524.17" x2="482.35" y2="524.17" stroke="#777" stroke-width="0.7" />
<line x1="494.80" y1="518.31" x2="494.80" y2="529.05" stroke="#777" stroke-width="0.7" />
<line x1="493.00" y1="518.31" x2="496.60" y2="518.31" stroke="#777" stroke-width="0.7" />
<line x1="493.00" y1="529.05" x2="496.60" y2="529.05" stroke="#777" stroke-width="0.7" />
<line x1="509.05" y1="532.46" x2="509.05" y2="537.34" stroke="#777" stroke-width="0.7" />
<line x1="507.25" y1="532.46" x2="510.85" y2="532.46" stroke="#777" stroke-width="0.7" />
<line x1="507.25" y1="537.34" x2="510.85" y2="537.34" stroke="#777" stroke-width="0.7" />
<line x1="523.30" y1="537.69" x2="523.30" y2="539.64" stroke="#777" stroke-width="0.7" />
<line x1="521.50" y1="537.69" x2="525.10" y2="537.69" stroke="#777" stroke-width="0.7" />
<line x1="521.50" y1="539.64" x2="525.10" y2="539.64" stroke="#777" stroke-width="0.7" />
<path d="M409.30 490.01 L423.55 532.95 L437.80 542.71 L452.05 536.56 L466.30 524.66 L480.55 517.82 L494.80 523.68 L509.05 534.90 L523.30 538.66" fill="none" stroke="#777" stroke-width="1.45" stroke-linejoin="round"/>
<circle cx="409.30" cy="490.01" r="1.9" fill="#fff" stroke="#777" stroke-width="0.75" />
<circle cx="423.55" cy="532.95" r="1.9" fill="#fff" stroke="#777" stroke-width="0.75" />
<circle cx="437.80" cy="542.71" r="1.9" fill="#fff" stroke="#777" stroke-width="0.75" />
<circle cx="452.05" cy="536.56" r="1.9" fill="#fff" stroke="#777" stroke-width="0.75" />
<circle cx="466.30" cy="524.66" r="1.9" fill="#fff" stroke="#777" stroke-width="0.75" />
<circle cx="480.55" cy="517.82" r="1.9" fill="#fff" stroke="#777" stroke-width="0.75" />
<circle cx="494.80" cy="523.68" r="1.9" fill="#fff" stroke="#777" stroke-width="0.75" />
<circle cx="509.05" cy="534.90" r="1.9" fill="#fff" stroke="#777" stroke-width="0.75" />
<circle cx="523.30" cy="538.66" r="1.9" fill="#fff" stroke="#777" stroke-width="0.75" />
<line x1="399.25" y1="543.20" x2="532.80" y2="543.20" stroke="#3c3c3c" stroke-width="0.9" />
<line x1="399.70" y1="469.55" x2="399.70" y2="543.65" stroke="#3c3c3c" stroke-width="0.9" />
<line x1="394.50" y1="543.20" x2="399.70" y2="543.20" stroke="#3c3c3c" stroke-width="0.9" />
<text x="393.10" y="546.30" font-size="8.7" text-anchor="end" fill="#111" stroke="#111" stroke-width="0.2" >0</text>
<line x1="394.50" y1="518.80" x2="399.70" y2="518.80" stroke="#3c3c3c" stroke-width="0.9" />
<text x="393.10" y="521.90" font-size="8.7" text-anchor="end" fill="#111" stroke="#111" stroke-width="0.2" >50</text>
<line x1="394.50" y1="494.40" x2="399.70" y2="494.40" stroke="#3c3c3c" stroke-width="0.9" />
<text x="393.10" y="497.50" font-size="8.7" text-anchor="end" fill="#111" stroke="#111" stroke-width="0.2" >100</text>
<line x1="394.50" y1="470.00" x2="399.70" y2="470.00" stroke="#3c3c3c" stroke-width="0.9" />
<text x="393.10" y="473.10" font-size="8.7" text-anchor="end" fill="#111" stroke="#111" stroke-width="0.2" >150</text>
<text transform="translate(375.40 506.60) rotate(-90)" text-anchor="middle" font-size="8.7" fill="#111" stroke="#111" stroke-width="0.2">Licking duration (s)</text>
<line x1="409.30" y1="543.20" x2="409.30" y2="548.00" stroke="#3c3c3c" stroke-width="0.9" />
<text x="409.30" y="557.00" font-size="8.7" text-anchor="middle" fill="#111" stroke="#111" stroke-width="0.2" >5</text>
<line x1="423.55" y1="543.20" x2="423.55" y2="548.00" stroke="#3c3c3c" stroke-width="0.9" />
<text x="423.55" y="557.00" font-size="8.7" text-anchor="middle" fill="#111" stroke="#111" stroke-width="0.2" >10</text>
<line x1="437.80" y1="543.20" x2="437.80" y2="548.00" stroke="#3c3c3c" stroke-width="0.9" />
<text x="437.80" y="557.00" font-size="8.7" text-anchor="middle" fill="#111" stroke="#111" stroke-width="0.2" >15</text>
<line x1="452.05" y1="543.20" x2="452.05" y2="548.00" stroke="#3c3c3c" stroke-width="0.9" />
<text x="452.05" y="557.00" font-size="8.7" text-anchor="middle" fill="#111" stroke="#111" stroke-width="0.2" >20</text>
<line x1="466.30" y1="543.20" x2="466.30" y2="548.00" stroke="#3c3c3c" stroke-width="0.9" />
<text x="466.30" y="557.00" font-size="8.7" text-anchor="middle" fill="#111" stroke="#111" stroke-width="0.2" >25</text>
<line x1="480.55" y1="543.20" x2="480.55" y2="548.00" stroke="#3c3c3c" stroke-width="0.9" />
<text x="480.55" y="557.00" font-size="8.7" text-anchor="middle" fill="#111" stroke="#111" stroke-width="0.2" >30</text>
<line x1="494.80" y1="543.20" x2="494.80" y2="548.00" stroke="#3c3c3c" stroke-width="0.9" />
<text x="494.80" y="557.00" font-size="8.7" text-anchor="middle" fill="#111" stroke="#111" stroke-width="0.2" >35</text>
<line x1="509.05" y1="543.20" x2="509.05" y2="548.00" stroke="#3c3c3c" stroke-width="0.9" />
<text x="509.05" y="557.00" font-size="8.7" text-anchor="middle" fill="#111" stroke="#111" stroke-width="0.2" >40</text>
<line x1="523.30" y1="543.20" x2="523.30" y2="548.00" stroke="#3c3c3c" stroke-width="0.9" />
<text x="523.30" y="557.00" font-size="8.7" text-anchor="middle" fill="#111" stroke="#111" stroke-width="0.2" >45</text>
<text x="466.55" y="566.00" font-size="8.7" text-anchor="middle" fill="#111" stroke="#111" stroke-width="0.2" >Time (min)</text>
<line x1="415.00" y1="473.00" x2="428.70" y2="473.00" stroke="#777" stroke-width="1.1" />
<circle cx="421.80" cy="473.00" r="1.9" fill="#fff" stroke="#777" stroke-width="0.75" />
<text x="436.80" y="476.20" font-size="8.9" text-anchor="start" fill="#111" stroke="#111" stroke-width="0.2" >EYFP</text>
<line x1="476.80" y1="473.00" x2="490.50" y2="473.00" stroke="#f9b233" stroke-width="1.1" />
<circle cx="483.60" cy="473.00" r="1.9" fill="#fff" stroke="#f9b233" stroke-width="0.75" />
<text x="497.50" y="476.20" font-size="8.9" text-anchor="start" fill="#111" stroke="#111" stroke-width="0.2" >ChR2</text>
<text x="309.90" y="149.50" font-size="10" text-anchor="start" fill="#111" stroke="#111" stroke-width="0.2" font-weight="bold" >g</text>
<text x="310.20" y="296.30" font-size="10" text-anchor="start" fill="#111" stroke="#111" stroke-width="0.2" font-weight="bold" >h</text>
<text x="311.60" y="446.20" font-size="10" text-anchor="start" fill="#111" stroke="#111" stroke-width="0.2" font-weight="bold" >i</text>
<rect x="581.50" y="220.10" width="13.20" height="25.30" fill="#bdbdbd" />
<rect x="601.00" y="229.90" width="13.20" height="15.50" fill="#dc6b6b" />
<rect x="633.80" y="195.40" width="13.20" height="50.00" fill="#bdbdbd" />
<rect x="653.10" y="213.90" width="13.20" height="31.50" fill="#dc6b6b" />
<line x1="588.10" y1="216.70" x2="588.10" y2="220.10" stroke="#bdbdbd" stroke-width="0.7" />
<line x1="585.50" y1="216.70" x2="590.70" y2="216.70" stroke="#bdbdbd" stroke-width="0.7" />
<line x1="607.60" y1="227.40" x2="607.60" y2="229.90" stroke="#dc6b6b" stroke-width="0.7" />
<line x1="605.00" y1="227.40" x2="610.20" y2="227.40" stroke="#dc6b6b" stroke-width="0.7" />
<line x1="640.40" y1="189.40" x2="640.40" y2="195.40" stroke="#bdbdbd" stroke-width="0.7" />
<line x1="637.80" y1="189.40" x2="643.00" y2="189.40" stroke="#bdbdbd" stroke-width="0.7" />
<line x1="659.70" y1="210.90" x2="659.70" y2="213.90" stroke="#dc6b6b" stroke-width="0.7" />
<line x1="657.10" y1="210.90" x2="662.30" y2="210.90" stroke="#dc6b6b" stroke-width="0.7" />
<line x1="574.55" y1="245.40" x2="672.90" y2="245.40" stroke="#3c3c3c" stroke-width="0.9" />
<line x1="597.40" y1="245.40" x2="597.40" y2="250.20" stroke="#3c3c3c" stroke-width="0.9" />
<line x1="649.80" y1="245.40" x2="649.80" y2="250.20" stroke="#3c3c3c" stroke-width="0.9" />
<line x1="575.00" y1="171.95" x2="575.00" y2="245.85" stroke="#3c3c3c" stroke-width="0.9" />
<line x1="569.80" y1="245.40" x2="575.00" y2="245.40" stroke="#3c3c3c" stroke-width="0.9" />
<text x="568.40" y="248.50" font-size="8.7" text-anchor="end" fill="#111" stroke="#111" stroke-width="0.2" >0</text>
<line x1="569.80" y1="221.07" x2="575.00" y2="221.07" stroke="#3c3c3c" stroke-width="0.9" />
<text x="568.40" y="224.17" font-size="8.7" text-anchor="end" fill="#111" stroke="#111" stroke-width="0.2" >100</text>
<line x1="569.80" y1="196.73" x2="575.00" y2="196.73" stroke="#3c3c3c" stroke-width="0.9" />
<text x="568.40" y="199.83" font-size="8.7" text-anchor="end" fill="#111" stroke="#111" stroke-width="0.2" >200</text>
<line x1="569.80" y1="172.40" x2="575.00" y2="172.40" stroke="#3c3c3c" stroke-width="0.9" />
<text x="568.40" y="175.50" font-size="8.7" text-anchor="end" fill="#111" stroke="#111" stroke-width="0.2" >300</text>
<text transform="translate(549.90 208.90) rotate(-90)" text-anchor="middle" font-size="8.7" fill="#111" stroke="#111" stroke-width="0.2">Licking duration (s)</text>
<circle cx="583.10" cy="211.40" r="1.85" fill="#fff" stroke="#7a7a7a" stroke-width="0.75" />
<circle cx="588.00" cy="214.30" r="1.85" fill="#fff" stroke="#7a7a7a" stroke-width="0.75" />
<circle cx="592.80" cy="213.10" r="1.85" fill="#fff" stroke="#7a7a7a" stroke-width="0.75" />
<circle cx="583.10" cy="222.00" r="1.85" fill="#fff" stroke="#7a7a7a" stroke-width="0.75" />
<circle cx="592.80" cy="222.50" r="1.85" fill="#fff" stroke="#7a7a7a" stroke-width="0.75" />
<circle cx="588.00" cy="224.60" r="1.85" fill="#fff" stroke="#7a7a7a" stroke-width="0.75" />
<circle cx="588.00" cy="232.70" r="1.85" fill="#fff" stroke="#7a7a7a" stroke-width="0.75" />
<circle cx="607.30" cy="213.10" r="1.85" fill="#fff" stroke="#df6666" stroke-width="0.75" />
<circle cx="607.30" cy="225.40" r="1.85" fill="#fff" stroke="#df6666" stroke-width="0.75" />
<circle cx="605.10" cy="229.90" r="1.85" fill="#fff" stroke="#df6666" stroke-width="0.75" />
<circle cx="609.80" cy="230.20" r="1.85" fill="#fff" stroke="#df6666" stroke-width="0.75" />
<circle cx="607.30" cy="235.80" r="1.85" fill="#fff" stroke="#df6666" stroke-width="0.75" />
<circle cx="602.90" cy="238.00" r="1.85" fill="#fff" stroke="#df6666" stroke-width="0.75" />
<circle cx="612.00" cy="236.90" r="1.85" fill="#fff" stroke="#df6666" stroke-width="0.75" />
<circle cx="635.40" cy="179.80" r="1.85" fill="#fff" stroke="#7a7a7a" stroke-width="0.75" />
<circle cx="644.90" cy="181.60" r="1.85" fill="#fff" stroke="#7a7a7a" stroke-width="0.75" />
<circle cx="640.20" cy="186.90" r="1.85" fill="#fff" stroke="#7a7a7a" stroke-width="0.75" />
<circle cx="640.20" cy="192.40" r="1.85" fill="#fff" stroke="#7a7a7a" stroke-width="0.75" />
<circle cx="640.20" cy="201.00" r="1.85" fill="#fff" stroke="#7a7a7a" stroke-width="0.75" />
<circle cx="640.20" cy="208.00" r="1.85" fill="#fff" stroke="#7a7a7a" stroke-width="0.75" />
<circle cx="640.20" cy="219.50" r="1.85" fill="#fff" stroke="#7a7a7a" stroke-width="0.75" />
<circle cx="659.40" cy="197.30" r="1.85" fill="#fff" stroke="#df6666" stroke-width="0.75" />
<circle cx="657.20" cy="209.40" r="1.85" fill="#fff" stroke="#df6666" stroke-width="0.75" />
<circle cx="662.10" cy="212.40" r="1.85" fill="#fff" stroke="#df6666" stroke-width="0.75" />
<circle cx="655.00" cy="216.40" r="1.85" fill="#fff" stroke="#df6666" stroke-width="0.75" />
<circle cx="664.30" cy="216.40" r="1.85" fill="#fff" stroke="#df6666" stroke-width="0.75" />
<circle cx="659.40" cy="219.50" r="1.85" fill="#fff" stroke="#df6666" stroke-width="0.75" />
<circle cx="659.40" cy="224.60" r="1.85" fill="#fff" stroke="#df6666" stroke-width="0.75" />
<text x="597.40" y="259.60" font-size="8.7" text-anchor="middle" fill="#111" stroke="#111" stroke-width="0.2" >Phase 1</text>
<text x="597.40" y="270.00" font-size="8.7" text-anchor="middle" fill="#111" stroke="#111" stroke-width="0.2" >(0-5 min)</text>
<text x="649.80" y="259.60" font-size="8.7" text-anchor="middle" fill="#111" stroke="#111" stroke-width="0.2" >Phase 2</text>
<text x="649.80" y="270.00" font-size="8.7" text-anchor="middle" fill="#111" stroke="#111" stroke-width="0.2" >(15-45 min)</text>
<line x1="587.10" y1="172.10" x2="612.90" y2="172.10" stroke="#2c2c2c" stroke-width="0.9" />
<text x="600.60" y="170.30" font-size="7.2" text-anchor="middle" fill="#111" stroke="#111" stroke-width="0.1" >ns</text>
<line x1="637.30" y1="172.10" x2="663.20" y2="172.10" stroke="#2c2c2c" stroke-width="0.9" />
<text x="650.40" y="170.30" font-size="6.7" text-anchor="middle" fill="#111" stroke="#111" stroke-width="0.1"><tspan font-style="italic">P</tspan> = 0.0058</text>
<rect x="582.10" y="380.80" width="13.20" height="14.40" fill="#bdbdbd" />
<rect x="602.00" y="378.20" width="13.20" height="17.00" fill="#f0b0ab" />
<rect x="635.40" y="371.10" width="13.20" height="24.10" fill="#bdbdbd" />
<rect x="655.40" y="374.00" width="13.20" height="21.20" fill="#f0b0ab" />
<line x1="588.70" y1="378.30" x2="588.70" y2="380.80" stroke="#bdbdbd" stroke-width="0.7" />
<line x1="586.10" y1="378.30" x2="591.30" y2="378.30" stroke="#bdbdbd" stroke-width="0.7" />
<line x1="608.60" y1="375.70" x2="608.60" y2="378.20" stroke="#f0b0ab" stroke-width="0.7" />
<line x1="606.00" y1="375.70" x2="611.20" y2="375.70" stroke="#f0b0ab" stroke-width="0.7" />
<line x1="642.00" y1="365.10" x2="642.00" y2="371.10" stroke="#bdbdbd" stroke-width="0.7" />
<line x1="639.40" y1="365.10" x2="644.60" y2="365.10" stroke="#bdbdbd" stroke-width="0.7" />
<line x1="662.00" y1="368.00" x2="662.00" y2="374.00" stroke="#f0b0ab" stroke-width="0.7" />
<line x1="659.40" y1="368.00" x2="664.60" y2="368.00" stroke="#f0b0ab" stroke-width="0.7" />
<line x1="575.05" y1="395.20" x2="675.30" y2="395.20" stroke="#3c3c3c" stroke-width="0.9" />
<line x1="598.50" y1="395.20" x2="598.50" y2="400.00" stroke="#3c3c3c" stroke-width="0.9" />
<line x1="651.80" y1="395.20" x2="651.80" y2="400.00" stroke="#3c3c3c" stroke-width="0.9" />
<line x1="575.50" y1="320.35" x2="575.50" y2="395.65" stroke="#3c3c3c" stroke-width="0.9" />
<line x1="570.30" y1="395.20" x2="575.50" y2="395.20" stroke="#3c3c3c" stroke-width="0.9" />
<text x="568.90" y="398.30" font-size="8.7" text-anchor="end" fill="#111" stroke="#111" stroke-width="0.2" >0</text>
<line x1="570.30" y1="380.32" x2="575.50" y2="380.32" stroke="#3c3c3c" stroke-width="0.9" />
<text x="568.90" y="383.42" font-size="8.7" text-anchor="end" fill="#111" stroke="#111" stroke-width="0.2" >100</text>
<line x1="570.30" y1="365.44" x2="575.50" y2="365.44" stroke="#3c3c3c" stroke-width="0.9" />
<text x="568.90" y="368.54" font-size="8.7" text-anchor="end" fill="#111" stroke="#111" stroke-width="0.2" >200</text>
<line x1="570.30" y1="350.56" x2="575.50" y2="350.56" stroke="#3c3c3c" stroke-width="0.9" />
<text x="568.90" y="353.66" font-size="8.7" text-anchor="end" fill="#111" stroke="#111" stroke-width="0.2" >300</text>
<line x1="570.30" y1="335.68" x2="575.50" y2="335.68" stroke="#3c3c3c" stroke-width="0.9" />
<text x="568.90" y="338.78" font-size="8.7" text-anchor="end" fill="#111" stroke="#111" stroke-width="0.2" >400</text>
<line x1="570.30" y1="320.80" x2="575.50" y2="320.80" stroke="#3c3c3c" stroke-width="0.9" />
<text x="568.90" y="323.90" font-size="8.7" text-anchor="end" fill="#111" stroke="#111" stroke-width="0.2" >500</text>
<text transform="translate(549.90 358.00) rotate(-90)" text-anchor="middle" font-size="8.7" fill="#111" stroke="#111" stroke-width="0.2">Licking duration (s)</text>
<circle cx="587.20" cy="373.20" r="1.85" fill="#fff" stroke="#7a7a7a" stroke-width="0.75" />
<circle cx="590.40" cy="375.80" r="1.85" fill="#fff" stroke="#7a7a7a" stroke-width="0.75" />
<circle cx="587.20" cy="378.50" r="1.85" fill="#fff" stroke="#7a7a7a" stroke-width="0.75" />
<circle cx="587.20" cy="382.90" r="1.85" fill="#fff" stroke="#7a7a7a" stroke-width="0.75" />
<circle cx="593.50" cy="383.70" r="1.85" fill="#fff" stroke="#7a7a7a" stroke-width="0.75" />
<circle cx="590.40" cy="384.90" r="1.85" fill="#fff" stroke="#7a7a7a" stroke-width="0.75" />
<circle cx="583.60" cy="385.70" r="1.85" fill="#fff" stroke="#7a7a7a" stroke-width="0.75" />
<circle cx="610.30" cy="370.80" r="1.85" fill="#fff" stroke="#f2a39d" stroke-width="0.75" />
<circle cx="606.80" cy="373.80" r="1.85" fill="#fff" stroke="#f2a39d" stroke-width="0.75" />
<circle cx="603.70" cy="376.10" r="1.85" fill="#fff" stroke="#f2a39d" stroke-width="0.75" />
<circle cx="610.30" cy="377.40" r="1.85" fill="#fff" stroke="#f2a39d" stroke-width="0.75" />
<circle cx="613.40" cy="378.50" r="1.85" fill="#fff" stroke="#f2a39d" stroke-width="0.75" />
<circle cx="606.80" cy="379.40" r="1.85" fill="#fff" stroke="#f2a39d" stroke-width="0.75" />
<circle cx="610.30" cy="382.60" r="1.85" fill="#fff" stroke="#f2a39d" stroke-width="0.75" />
<circle cx="608.40" cy="388.10" r="1.85" fill="#fff" stroke="#f2a39d" stroke-width="0.75" />
<circle cx="639.70" cy="348.40" r="1.85" fill="#fff" stroke="#7a7a7a" stroke-width="0.75" />
<circle cx="644.00" cy="348.40" r="1.85" fill="#fff" stroke="#7a7a7a" stroke-width="0.75" />
<circle cx="641.90" cy="365.20" r="1.85" fill="#fff" stroke="#7a7a7a" stroke-width="0.75" />
<circle cx="637.40" cy="381.80" r="1.85" fill="#fff" stroke="#7a7a7a" stroke-width="0.75" />
<circle cx="646.60" cy="381.80" r="1.85" fill="#fff" stroke="#7a7a7a" stroke-width="0.75" />
<circle cx="641.90" cy="384.00" r="1.85" fill="#fff" stroke="#7a7a7a" stroke-width="0.75" />
<circle cx="641.90" cy="388.40" r="1.85" fill="#fff" stroke="#7a7a7a" stroke-width="0.75" />
<circle cx="661.70" cy="336.30" r="1.85" fill="#fff" stroke="#f2a39d" stroke-width="0.75" />
<circle cx="661.70" cy="362.50" r="1.85" fill="#fff" stroke="#f2a39d" stroke-width="0.75" />
<circle cx="661.70" cy="372.40" r="1.85" fill="#fff" stroke="#f2a39d" stroke-width="0.75" />
<circle cx="657.30" cy="382.40" r="1.85" fill="#fff" stroke="#f2a39d" stroke-width="0.75" />
<circle cx="661.70" cy="383.40" r="1.85" fill="#fff" stroke="#f2a39d" stroke-width="0.75" />
<circle cx="666.40" cy="381.80" r="1.85" fill="#fff" stroke="#f2a39d" stroke-width="0.75" />
<circle cx="657.30" cy="386.80" r="1.85" fill="#fff" stroke="#f2a39d" stroke-width="0.75" />
<circle cx="666.40" cy="385.70" r="1.85" fill="#fff" stroke="#f2a39d" stroke-width="0.75" />
<text x="598.50" y="409.20" font-size="8.7" text-anchor="middle" fill="#111" stroke="#111" stroke-width="0.2" >Phase 1</text>
<text x="598.50" y="419.00" font-size="8.7" text-anchor="middle" fill="#111" stroke="#111" stroke-width="0.2" >(0-5 min)</text>
<text x="651.80" y="409.20" font-size="8.7" text-anchor="middle" fill="#111" stroke="#111" stroke-width="0.2" >Phase 2</text>
<text x="651.80" y="419.00" font-size="8.7" text-anchor="middle" fill="#111" stroke="#111" stroke-width="0.2" >(15-45 min)</text>
<line x1="585.50" y1="322.20" x2="612.60" y2="322.20" stroke="#2c2c2c" stroke-width="0.9" />
<text x="600.10" y="320.50" font-size="7.2" text-anchor="middle" fill="#111" stroke="#111" stroke-width="0.1" >ns</text>
<line x1="638.20" y1="322.20" x2="665.40" y2="322.20" stroke="#2c2c2c" stroke-width="0.9" />
<text x="652.90" y="320.50" font-size="7.2" text-anchor="middle" fill="#111" stroke="#111" stroke-width="0.1" >ns</text>
<rect x="581.60" y="522.80" width="13.20" height="20.30" fill="#bdbdbd" />
<rect x="600.90" y="527.80" width="13.20" height="15.30" fill="#fbbf5e" />
<rect x="633.90" y="512.70" width="13.20" height="30.40" fill="#bdbdbd" />
<rect x="653.50" y="527.40" width="13.20" height="15.70" fill="#fbbf5e" />
<line x1="588.20" y1="521.30" x2="588.20" y2="522.80" stroke="#bdbdbd" stroke-width="0.7" />
<line x1="585.60" y1="521.30" x2="590.80" y2="521.30" stroke="#bdbdbd" stroke-width="0.7" />
<line x1="607.50" y1="525.80" x2="607.50" y2="527.80" stroke="#fbbf5e" stroke-width="0.7" />
<line x1="604.90" y1="525.80" x2="610.10" y2="525.80" stroke="#fbbf5e" stroke-width="0.7" />
<line x1="640.50" y1="507.70" x2="640.50" y2="512.70" stroke="#bdbdbd" stroke-width="0.7" />
<line x1="637.90" y1="507.70" x2="643.10" y2="507.70" stroke="#bdbdbd" stroke-width="0.7" />
<line x1="660.10" y1="523.40" x2="660.10" y2="527.40" stroke="#fbbf5e" stroke-width="0.7" />
<line x1="657.50" y1="523.40" x2="662.70" y2="523.40" stroke="#fbbf5e" stroke-width="0.7" />
<line x1="574.55" y1="543.10" x2="672.90" y2="543.10" stroke="#3c3c3c" stroke-width="0.9" />
<line x1="597.70" y1="543.10" x2="597.70" y2="547.90" stroke="#3c3c3c" stroke-width="0.9" />
<line x1="649.80" y1="543.10" x2="649.80" y2="547.90" stroke="#3c3c3c" stroke-width="0.9" />
<line x1="575.00" y1="469.65" x2="575.00" y2="543.55" stroke="#3c3c3c" stroke-width="0.9" />
<line x1="569.80" y1="543.10" x2="575.00" y2="543.10" stroke="#3c3c3c" stroke-width="0.9" />
<text x="568.40" y="546.20" font-size="8.7" text-anchor="end" fill="#111" stroke="#111" stroke-width="0.2" >0</text>
<line x1="569.80" y1="524.85" x2="575.00" y2="524.85" stroke="#3c3c3c" stroke-width="0.9" />
<text x="568.40" y="527.95" font-size="8.7" text-anchor="end" fill="#111" stroke="#111" stroke-width="0.2" >100</text>
<line x1="569.80" y1="506.60" x2="575.00" y2="506.60" stroke="#3c3c3c" stroke-width="0.9" />
<text x="568.40" y="509.70" font-size="8.7" text-anchor="end" fill="#111" stroke="#111" stroke-width="0.2" >200</text>
<line x1="569.80" y1="488.35" x2="575.00" y2="488.35" stroke="#3c3c3c" stroke-width="0.9" />
<text x="568.40" y="491.45" font-size="8.7" text-anchor="end" fill="#111" stroke="#111" stroke-width="0.2" >300</text>
<line x1="569.80" y1="470.10" x2="575.00" y2="470.10" stroke="#3c3c3c" stroke-width="0.9" />
<text x="568.40" y="473.20" font-size="8.7" text-anchor="end" fill="#111" stroke="#111" stroke-width="0.2" >400</text>
<text transform="translate(549.90 506.60) rotate(-90)" text-anchor="middle" font-size="8.7" fill="#111" stroke="#111" stroke-width="0.2">Licking duration (s)</text>
<circle cx="585.80" cy="519.10" r="1.85" fill="#fff" stroke="#7a7a7a" stroke-width="0.75" />
<circle cx="590.80" cy="520.20" r="1.85" fill="#fff" stroke="#7a7a7a" stroke-width="0.75" />
<circle cx="583.90" cy="521.70" r="1.85" fill="#fff" stroke="#7a7a7a" stroke-width="0.75" />
<circle cx="588.00" cy="522.80" r="1.85" fill="#fff" stroke="#7a7a7a" stroke-width="0.75" />
<circle cx="592.90" cy="523.50" r="1.85" fill="#fff" stroke="#7a7a7a" stroke-width="0.75" />
<circle cx="585.80" cy="525.20" r="1.85" fill="#fff" stroke="#7a7a7a" stroke-width="0.75" />
<circle cx="589.70" cy="526.10" r="1.85" fill="#fff" stroke="#7a7a7a" stroke-width="0.75" />
<circle cx="584.90" cy="527.40" r="1.85" fill="#fff" stroke="#7a7a7a" stroke-width="0.75" />
<circle cx="607.60" cy="520.70" r="1.85" fill="#fff" stroke="#f9b233" stroke-width="0.75" />
<circle cx="607.60" cy="525.20" r="1.85" fill="#fff" stroke="#f9b233" stroke-width="0.75" />
<circle cx="603.30" cy="527.80" r="1.85" fill="#fff" stroke="#f9b233" stroke-width="0.75" />
<circle cx="612.00" cy="527.40" r="1.85" fill="#fff" stroke="#f9b233" stroke-width="0.75" />
<circle cx="605.50" cy="531.00" r="1.85" fill="#fff" stroke="#f9b233" stroke-width="0.75" />
<circle cx="609.80" cy="530.40" r="1.85" fill="#fff" stroke="#f9b233" stroke-width="0.75" />
<circle cx="606.60" cy="533.20" r="1.85" fill="#fff" stroke="#f9b233" stroke-width="0.75" />
<circle cx="640.50" cy="482.00" r="1.85" fill="#fff" stroke="#7a7a7a" stroke-width="0.75" />
<circle cx="640.50" cy="506.60" r="1.85" fill="#fff" stroke="#7a7a7a" stroke-width="0.75" />
<circle cx="635.70" cy="508.30" r="1.85" fill="#fff" stroke="#7a7a7a" stroke-width="0.75" />
<circle cx="645.20" cy="507.90" r="1.85" fill="#fff" stroke="#7a7a7a" stroke-width="0.75" />
<circle cx="640.50" cy="512.00" r="1.85" fill="#fff" stroke="#7a7a7a" stroke-width="0.75" />
<circle cx="640.50" cy="519.60" r="1.85" fill="#fff" stroke="#7a7a7a" stroke-width="0.75" />
<circle cx="640.50" cy="527.10" r="1.85" fill="#fff" stroke="#7a7a7a" stroke-width="0.75" />
<circle cx="640.50" cy="533.20" r="1.85" fill="#fff" stroke="#7a7a7a" stroke-width="0.75" />
<circle cx="664.70" cy="513.70" r="1.85" fill="#fff" stroke="#f9b233" stroke-width="0.75" />
<circle cx="659.90" cy="517.40" r="1.85" fill="#fff" stroke="#f9b233" stroke-width="0.75" />
<circle cx="659.90" cy="524.50" r="1.85" fill="#fff" stroke="#f9b233" stroke-width="0.75" />
<circle cx="659.90" cy="531.00" r="1.85" fill="#fff" stroke="#f9b233" stroke-width="0.75" />
<circle cx="664.70" cy="531.00" r="1.85" fill="#fff" stroke="#f9b233" stroke-width="0.75" />
<circle cx="655.60" cy="537.10" r="1.85" fill="#fff" stroke="#f9b233" stroke-width="0.75" />
<circle cx="659.90" cy="536.40" r="1.85" fill="#fff" stroke="#f9b233" stroke-width="0.75" />
<circle cx="664.70" cy="535.80" r="1.85" fill="#fff" stroke="#f9b233" stroke-width="0.75" />
<text x="597.70" y="557.30" font-size="8.7" text-anchor="middle" fill="#111" stroke="#111" stroke-width="0.2" >Phase 1</text>
<text x="597.70" y="566.60" font-size="8.7" text-anchor="middle" fill="#111" stroke="#111" stroke-width="0.2" >(0-5 min)</text>
<text x="649.80" y="557.30" font-size="8.7" text-anchor="middle" fill="#111" stroke="#111" stroke-width="0.2" >Phase 2</text>
<text x="649.80" y="566.60" font-size="8.7" text-anchor="middle" fill="#111" stroke="#111" stroke-width="0.2" >(15-45 min)</text>
<line x1="587.10" y1="469.40" x2="613.00" y2="469.40" stroke="#2c2c2c" stroke-width="0.9" />
<text x="601.10" y="467.50" font-size="7.2" text-anchor="middle" fill="#111" stroke="#111" stroke-width="0.1" >ns</text>
<line x1="637.20" y1="469.40" x2="663.60" y2="469.40" stroke="#2c2c2c" stroke-width="0.9" />
<text x="650.20" y="467.50" font-size="6.7" text-anchor="middle" fill="#111" stroke="#111" stroke-width="0.1"><tspan font-style="italic">P</tspan> = 0.0099</text>
</svg></body></html>
